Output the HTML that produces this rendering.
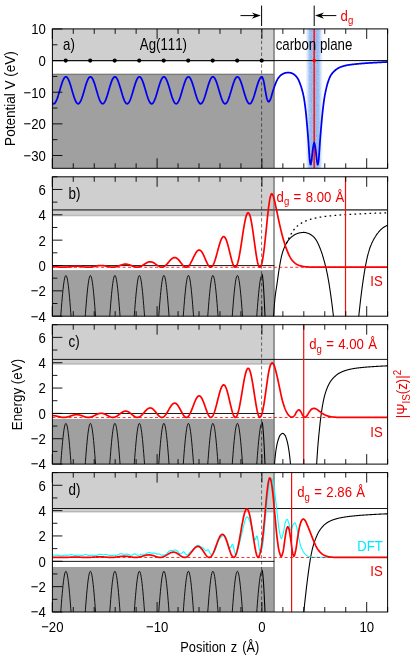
<!DOCTYPE html>
<html><head><meta charset="utf-8"><title>Image state on graphene/Ag(111)</title>
<style>html,body{margin:0;padding:0;background:#fff;}svg{display:block;will-change:transform;}text{font-kerning:none;}body{font-family:"Liberation Sans", sans-serif;}</style></head>
<body>
<svg width="415" height="661" viewBox="0 0 415 661" font-family='"Liberation Sans", sans-serif'>
<defs>
<clipPath id="clipA"><rect x="52.4" y="28.9" width="335.20000000000005" height="139.4"/></clipPath>
<clipPath id="clipB"><rect x="52.4" y="176.8" width="335.20000000000005" height="139.4"/></clipPath>
<clipPath id="clipC"><rect x="52.4" y="324.7" width="335.20000000000005" height="139.4"/></clipPath>
<clipPath id="clipD"><rect x="52.4" y="472.6" width="335.20000000000005" height="139.4"/></clipPath>
<linearGradient id="glow" x1="0" x2="1" y1="0" y2="0"><stop offset="0" stop-color="#4f8fe8" stop-opacity="0"/><stop offset="0.10" stop-color="#4f8fe8" stop-opacity="0.2"/><stop offset="0.22" stop-color="#4f8fe8" stop-opacity="0.58"/><stop offset="0.34" stop-color="#4f8fe8" stop-opacity="0.7"/><stop offset="0.5" stop-color="#4f8fe8" stop-opacity="0.58"/><stop offset="0.66" stop-color="#4f8fe8" stop-opacity="0.7"/><stop offset="0.78" stop-color="#4f8fe8" stop-opacity="0.58"/><stop offset="0.90" stop-color="#4f8fe8" stop-opacity="0.2"/><stop offset="1" stop-color="#4f8fe8" stop-opacity="0"/></linearGradient>
<filter id="noise" x="0" y="0" width="1" height="1"><feTurbulence type="fractalNoise" baseFrequency="0.9" numOctaves="2" seed="3" result="n"/><feColorMatrix in="n" type="matrix" values="0 0 0 0 1  0 0 0 0 1  0 0 0 0 1  0 0 0 1.6 -0.45" result="m"/><feComposite in="m" in2="SourceGraphic" operator="in"/></filter>
</defs>
<rect x="0.00" y="0.00" width="415.00" height="661.00" fill="#fff"/>
<g clip-path="url(#clipA)">
<rect x="52.40" y="28.90" width="221.90" height="33.00" fill="#cfcfcf"/>
<rect x="52.40" y="74.70" width="221.90" height="93.60" fill="#a0a0a0"/>
<line x1="52.40" y1="74.30" x2="274.30" y2="74.30" stroke="#585858" stroke-width="1.1" />
<rect x="305.40" y="28.90" width="17.60" height="139.40" fill="url(#glow)"/>
<rect x="305.4" y="28.9" width="17.6" height="139.4" fill="#fff" filter="url(#noise)" opacity="0.35"/>
<line x1="274.00" y1="28.90" x2="274.00" y2="168.30" stroke="#7c7c7c" stroke-width="1.5" />
<line x1="52.40" y1="60.60" x2="387.60" y2="60.60" stroke="#000" stroke-width="1.0" />
<line x1="261.60" y1="28.90" x2="261.60" y2="168.30" stroke="#000" stroke-width="0.55" stroke-dasharray="3.4,2.5"/>
<circle cx="261.70" cy="60.6" r="2.1" fill="#000"/>
<circle cx="237.20" cy="60.6" r="2.1" fill="#000"/>
<circle cx="212.70" cy="60.6" r="2.1" fill="#000"/>
<circle cx="188.20" cy="60.6" r="2.1" fill="#000"/>
<circle cx="163.70" cy="60.6" r="2.1" fill="#000"/>
<circle cx="139.20" cy="60.6" r="2.1" fill="#000"/>
<circle cx="114.70" cy="60.6" r="2.1" fill="#000"/>
<circle cx="90.20" cy="60.6" r="2.1" fill="#000"/>
<circle cx="65.70" cy="60.6" r="2.1" fill="#000"/>
<line x1="314.20" y1="28.90" x2="314.20" y2="168.30" stroke="#ff1a1a" stroke-width="1.7" />
<circle cx="314.2" cy="60.6" r="1.8" fill="#f00"/>
<polyline points="50.40,99.38 51.25,101.33 52.10,102.75 52.95,103.59 53.80,103.80 54.65,103.37 55.50,102.32 56.35,100.71 57.20,98.60 58.04,96.10 58.89,93.33 59.74,90.41 60.59,87.49 61.44,84.70 62.29,82.18 63.14,80.04 63.99,78.38 64.84,77.29 65.69,76.81 66.54,76.98 67.39,77.77 68.24,79.15 69.09,81.06 69.94,83.41 70.79,86.08 71.63,88.95 72.48,91.89 73.33,94.75 74.18,97.40 75.03,99.72 75.88,101.59 76.73,102.92 77.58,103.66 78.43,103.77 79.28,103.24 80.13,102.10 80.98,100.41 81.83,98.23 82.68,95.68 83.53,92.88 84.38,89.95 85.23,87.04 86.07,84.29 86.92,81.81 87.77,79.74 88.62,78.17 89.47,77.18 90.32,76.80 91.17,77.06 92.02,77.94 92.87,79.41 93.72,81.40 94.57,83.81 95.42,86.52 96.27,89.41 97.12,92.34 97.97,95.18 98.82,97.79 99.67,100.04 100.51,101.83 101.36,103.08 102.21,103.72 103.06,103.73 103.91,103.11 104.76,101.87 105.61,100.10 106.46,97.86 107.31,95.26 108.16,92.43 109.01,89.49 109.86,86.60 110.71,83.88 111.56,81.46 112.41,79.46 113.26,77.98 114.10,77.07 114.95,76.80 115.80,77.16 116.65,78.14 117.50,79.69 118.35,81.75 119.20,84.21 120.05,86.96 120.90,89.87 121.75,92.80 122.60,95.60 123.45,98.16 124.30,100.35 125.15,102.06 126.00,103.22 126.85,103.77 127.70,103.67 128.54,102.95 129.39,101.63 130.24,99.77 131.09,97.47 131.94,94.83 132.79,91.97 133.64,89.03 134.49,86.16 135.34,83.48 136.19,81.12 137.04,79.20 137.89,77.80 138.74,76.99 139.59,76.81 140.44,77.27 141.29,78.34 142.13,79.98 142.98,82.11 143.83,84.62 144.68,87.41 145.53,90.33 146.38,93.24 147.23,96.02 148.08,98.53 148.93,100.65 149.78,102.28 150.63,103.35 151.48,103.79 152.33,103.60 153.18,102.78 154.03,101.37 154.88,99.44 155.73,97.08 156.57,94.39 157.42,91.51 158.27,88.58 159.12,85.72 159.97,83.09 160.82,80.79 161.67,78.94 162.52,77.63 163.37,76.92 164.22,76.84 165.07,77.40 165.92,78.56 166.77,80.28 167.62,82.48 168.47,85.04 169.32,87.86 170.17,90.79 171.01,93.69 171.86,96.44 172.71,98.89 173.56,100.94 174.41,102.49 175.26,103.46 176.11,103.81 176.96,103.52 177.81,102.60 178.66,101.11 179.51,99.10 180.36,96.68 181.21,93.95 182.06,91.06 182.91,88.12 183.76,85.30 184.60,82.70 185.45,80.47 186.30,78.70 187.15,77.48 188.00,76.86 188.85,76.89 189.70,77.54 190.55,78.80 191.40,80.60 192.25,82.86 193.10,85.47 193.95,88.31 194.80,91.24 195.65,94.13 196.50,96.84 197.35,99.24 198.20,101.22 199.04,102.68 199.89,103.55 200.74,103.80 201.59,103.41 202.44,102.40 203.29,100.82 204.14,98.75 204.99,96.27 205.84,93.51 206.69,90.60 207.54,87.67 208.39,84.87 209.24,82.33 210.09,80.16 210.94,78.47 211.79,77.34 212.63,76.83 213.48,76.95 214.33,77.70 215.18,79.04 216.03,80.92 216.88,83.25 217.73,85.90 218.58,88.77 219.43,91.70 220.28,94.57 221.13,97.24 221.98,99.58 222.83,101.48 223.68,102.85 224.53,103.63 225.38,103.78 226.23,103.30 227.07,102.19 227.92,100.53 228.77,98.38 229.62,95.85 230.47,93.06 231.32,90.14 232.17,87.22 233.02,84.45 233.87,81.96 234.72,79.86 235.57,78.26 236.42,77.22 237.27,76.80 238.12,77.02 238.97,77.87 239.82,79.30 240.67,81.26 241.51,83.64 242.36,86.34 243.21,89.22 244.06,92.16 244.91,95.00 245.76,97.63 246.61,99.91 247.46,101.73 248.31,103.02 249.16,103.70 250.01,103.75 250.86,103.16 251.71,101.97 252.56,100.22 253.41,98.01 254.26,95.43 255.10,92.61 255.95,89.68 256.80,86.78 257.65,84.04 258.50,81.61 259.35,79.58 260.20,78.06 261.05,77.11 261.90,76.79 262.16,76.95 262.42,77.44 262.68,78.05 262.94,78.75 263.20,79.53 263.46,80.36 263.72,81.34 263.98,82.57 264.24,84.00 264.50,85.55 264.76,87.17 265.02,88.78 265.28,90.30 265.54,91.69 265.80,93.07 266.06,94.49 266.32,95.89 266.58,97.19 266.84,98.33 267.10,99.22 267.36,99.87 267.62,100.48 267.88,101.02 268.14,101.45 268.39,101.73 268.65,101.80 268.91,101.69 269.17,101.44 269.43,101.10 269.69,100.69 269.95,100.24 270.21,99.78 270.47,99.23 270.73,98.55 270.99,97.76 271.25,96.88 271.51,95.96 271.77,95.01 272.03,94.07 272.29,93.17 272.55,92.34 272.81,91.52 273.07,90.69 273.33,89.86 273.59,89.04 273.85,88.23 274.11,87.44 274.37,86.69 274.63,85.98 274.89,85.31 275.15,84.64 275.41,83.97 275.67,83.31 275.93,82.67 276.19,82.04 276.45,81.44 276.71,80.86 276.97,80.31 277.23,79.80 277.49,79.32 277.75,78.88 278.01,78.49 278.27,78.13 278.53,77.78 278.79,77.44 279.05,77.11 279.31,76.80 279.57,76.50 279.83,76.21 280.09,75.94 280.35,75.68 280.61,75.44 280.87,75.21 281.13,75.00 281.38,74.80 281.64,74.62 281.90,74.46 282.16,74.31 282.42,74.16 282.68,74.02 282.94,73.88 283.20,73.75 283.46,73.62 283.72,73.50 283.98,73.39 284.24,73.28 284.50,73.18 284.76,73.09 285.02,73.01 285.28,72.94 285.54,72.88 285.80,72.83 286.06,72.79 286.32,72.76 286.58,72.72 286.84,72.69 287.10,72.67 287.36,72.64 287.62,72.62 287.88,72.61 288.14,72.60 288.40,72.60 288.66,72.61 288.92,72.62 289.18,72.65 289.44,72.68 289.70,72.71 289.96,72.75 290.22,72.79 290.48,72.84 290.74,72.89 291.00,72.94 291.26,73.01 291.52,73.09 291.78,73.19 292.04,73.30 292.30,73.41 292.56,73.54 292.82,73.68 293.08,73.83 293.34,73.98 293.60,74.14 293.86,74.31 294.12,74.48 294.37,74.66 294.63,74.86 294.89,75.08 295.15,75.32 295.41,75.57 295.67,75.83 295.93,76.12 296.19,76.42 296.45,76.73 296.71,77.06 296.97,77.41 297.23,77.77 297.49,78.14 297.75,78.54 298.01,78.97 298.27,79.45 298.53,79.97 298.79,80.53 299.05,81.13 299.31,81.75 299.57,82.40 299.83,83.08 300.09,83.79 300.35,84.51 300.61,85.26 300.87,86.02 301.13,86.79 301.39,87.58 301.65,88.41 301.91,89.28 302.17,90.19 302.43,91.15 302.69,92.16 302.95,93.23 303.21,94.36 303.47,95.57 303.73,96.84 303.99,98.25 304.25,99.82 304.51,101.54 304.77,103.38 305.03,105.34 305.29,107.38 305.55,109.53 305.81,111.89 306.07,114.43 306.33,117.11 306.59,119.88 306.85,122.70 307.11,125.56 307.36,128.49 307.62,131.52 307.88,134.67 308.14,137.96 308.40,141.43 308.66,145.33 308.92,149.34 309.18,153.08 309.44,156.66 309.70,159.98 309.96,162.09 310.22,163.56 310.48,164.48 310.74,164.45 311.00,163.56 311.26,162.24 311.52,160.77 311.78,158.68 312.04,156.17 312.30,153.59 312.56,151.30 312.82,149.40 313.08,147.63 313.34,146.00 313.60,144.50 314.20,142.60 314.80,144.50 315.10,146.22 315.39,148.11 315.69,150.18 315.98,152.52 316.28,155.38 316.58,158.28 316.87,160.72 317.17,162.40 317.46,163.85 317.76,164.59 318.06,164.09 318.35,162.60 318.65,160.49 318.94,156.84 319.24,152.77 319.54,148.43 319.83,143.86 320.13,139.63 320.42,135.82 320.72,132.18 321.02,128.71 321.31,125.37 321.61,122.13 321.90,118.95 322.20,115.85 322.50,112.89 322.79,110.12 323.09,107.57 323.38,105.16 323.68,102.88 323.98,100.73 324.27,98.73 324.57,96.89 324.86,95.20 325.16,93.61 325.46,92.11 325.75,90.70 326.05,89.35 326.34,88.07 326.64,86.84 326.94,85.66 327.23,84.56 327.53,83.55 327.82,82.62 328.12,81.74 328.42,80.87 328.71,80.03 329.01,79.23 329.30,78.46 329.60,77.74 329.90,77.07 330.19,76.45 330.49,75.89 330.78,75.40 331.08,74.93 331.38,74.48 331.67,74.06 331.97,73.65 332.26,73.27 332.56,72.90 332.86,72.56 333.15,72.23 333.45,71.91 333.74,71.61 334.04,71.32 334.33,71.05 334.63,70.78 334.93,70.53 335.22,70.28 335.52,70.03 335.81,69.80 336.11,69.57 336.41,69.35 336.70,69.13 337.00,68.93 337.29,68.73 337.59,68.54 337.89,68.36 338.18,68.18 338.48,68.02 338.77,67.86 339.07,67.71 339.37,67.57 339.66,67.43 339.96,67.30 340.25,67.18 340.55,67.06 340.85,66.94 341.14,66.83 341.44,66.72 341.73,66.61 342.03,66.51 342.33,66.42 342.62,66.32 342.92,66.23 343.21,66.14 343.51,66.06 343.81,65.98 344.10,65.90 344.40,65.82 344.69,65.75 344.99,65.68 345.29,65.61 345.58,65.54 345.88,65.47 346.17,65.41 346.47,65.34 346.77,65.28 347.06,65.22 347.36,65.17 347.65,65.11 347.95,65.06 348.25,65.01 348.54,64.96 348.84,64.91 349.13,64.86 349.43,64.82 349.73,64.78 350.02,64.74 350.32,64.70 350.61,64.66 350.91,64.62 351.21,64.59 351.50,64.55 351.80,64.52 352.09,64.48 352.39,64.45 352.69,64.41 352.98,64.38 353.28,64.35 353.57,64.31 353.87,64.28 354.17,64.25 354.46,64.21 354.76,64.18 355.05,64.15 355.35,64.12 355.65,64.08 355.94,64.05 356.24,64.02 356.53,63.99 356.83,63.96 357.13,63.93 357.42,63.90 357.72,63.87 358.01,63.84 358.31,63.81 358.61,63.78 358.90,63.75 359.20,63.73 359.49,63.70 359.79,63.67 360.09,63.65 360.38,63.62 360.68,63.60 360.97,63.57 361.27,63.55 361.57,63.52 361.86,63.50 362.16,63.47 362.45,63.45 362.75,63.43 363.05,63.40 363.34,63.38 363.64,63.36 363.93,63.33 364.23,63.31 364.53,63.29 364.82,63.27 365.12,63.25 365.41,63.22 365.71,63.20 366.01,63.18 366.30,63.16 366.60,63.14 366.89,63.12 367.19,63.10 367.49,63.08 367.78,63.06 368.08,63.04 368.37,63.02 368.67,63.00 368.97,62.98 369.26,62.97 369.56,62.95 369.85,62.93 370.15,62.91 370.44,62.89 370.74,62.87 371.04,62.86 371.33,62.84 371.63,62.82 371.92,62.80 372.22,62.79 372.52,62.77 372.81,62.75 373.11,62.74 373.40,62.72 373.70,62.70 374.00,62.69 374.29,62.67 374.59,62.65 374.88,62.64 375.18,62.62 375.48,62.60 375.77,62.59 376.07,62.57 376.36,62.55 376.66,62.54 376.96,62.52 377.25,62.50 377.55,62.49 377.84,62.47 378.14,62.45 378.44,62.44 378.73,62.42 379.03,62.40 379.32,62.39 379.62,62.37 379.92,62.35 380.21,62.34 380.51,62.32 380.80,62.31 381.10,62.29 381.40,62.27 381.69,62.26 381.99,62.24 382.28,62.22 382.58,62.21 382.88,62.19 383.17,62.18 383.47,62.16 383.76,62.15 384.06,62.13 384.36,62.11 384.65,62.10 384.95,62.08 385.24,62.07 385.54,62.05 385.84,62.04 386.13,62.02 386.43,62.01 386.72,61.99 387.02,61.98 387.32,61.96 387.61,61.95 387.91,61.93 388.20,61.91 388.50,61.90" fill="none" stroke="#0000f0" stroke-width="1.75" stroke-linejoin="round" stroke-linecap="butt" />
</g>
<text transform="translate(63.10,50.30) scale(0.835,1)" font-size="15.9" fill="#000" text-anchor="start" >a)</text>
<text transform="translate(139.80,50.30) scale(0.835,1)" font-size="15.9" fill="#000" text-anchor="start" >Ag(111)</text>
<text transform="translate(275.70,49.70) scale(0.835,1)" font-size="15.9" fill="#000" text-anchor="start" >carbon plane</text>
<line x1="52.40" y1="28.97" x2="62.40" y2="28.97" stroke="#000" stroke-width="0.9" />
<text transform="translate(45.80,34.37) scale(0.872,1)" font-size="15.1" fill="#000" text-anchor="end" >10</text>
<line x1="52.40" y1="44.79" x2="57.40" y2="44.79" stroke="#000" stroke-width="0.9" />
<line x1="52.40" y1="60.60" x2="62.40" y2="60.60" stroke="#000" stroke-width="0.9" />
<text transform="translate(45.80,66.00) scale(0.872,1)" font-size="15.1" fill="#000" text-anchor="end" >0</text>
<line x1="52.40" y1="76.42" x2="57.40" y2="76.42" stroke="#000" stroke-width="0.9" />
<line x1="52.40" y1="92.23" x2="62.40" y2="92.23" stroke="#000" stroke-width="0.9" />
<text transform="translate(45.80,97.63) scale(0.872,1)" font-size="15.1" fill="#000" text-anchor="end" >−10</text>
<line x1="52.40" y1="108.05" x2="57.40" y2="108.05" stroke="#000" stroke-width="0.9" />
<line x1="52.40" y1="123.86" x2="62.40" y2="123.86" stroke="#000" stroke-width="0.9" />
<text transform="translate(45.80,129.26) scale(0.872,1)" font-size="15.1" fill="#000" text-anchor="end" >−20</text>
<line x1="52.40" y1="139.67" x2="57.40" y2="139.67" stroke="#000" stroke-width="0.9" />
<line x1="52.40" y1="155.49" x2="62.40" y2="155.49" stroke="#000" stroke-width="0.9" />
<text transform="translate(45.80,160.89) scale(0.872,1)" font-size="15.1" fill="#000" text-anchor="end" >−30</text>
<g clip-path="url(#clipB)">
<rect x="52.40" y="176.80" width="221.90" height="39.60" fill="#cfcfcf"/>
<line x1="52.40" y1="215.30" x2="274.30" y2="215.30" stroke="#b6b6b6" stroke-width="1.0" />
<rect x="52.40" y="270.09" width="221.90" height="46.11" fill="#a0a0a0"/>
<line x1="274.00" y1="176.80" x2="274.00" y2="316.20" stroke="#7c7c7c" stroke-width="1.5" />
<line x1="52.40" y1="209.80" x2="387.60" y2="209.80" stroke="#5c5c5c" stroke-width="1.8" />
<line x1="52.40" y1="265.59" x2="274.30" y2="265.59" stroke="#000" stroke-width="0.9" />
<line x1="261.60" y1="176.80" x2="261.60" y2="316.20" stroke="#000" stroke-width="0.55" stroke-dasharray="3.4,2.5"/>
<polyline points="50.40,365.97 50.81,369.95 51.22,373.49 51.62,376.55 52.03,379.10 52.44,381.11 52.85,382.55 53.25,383.42 53.66,383.70 54.07,383.39 54.48,382.49 54.88,381.02 55.29,378.99 55.70,376.41 56.11,373.33 56.51,369.76 56.92,365.76 57.33,361.37 57.74,356.63 58.14,351.59 58.55,346.31 58.96,340.86 59.37,335.27 59.77,329.63 60.18,323.99 60.59,318.40 61.00,312.94 61.40,307.66 61.81,302.63 62.22,297.88 62.63,293.48 63.03,289.48 63.44,285.91 63.85,282.82 64.26,280.24 64.66,278.20 65.07,276.72 65.48,275.82 65.89,275.50 66.29,275.77 66.70,276.64 67.11,278.08 67.52,280.08 67.92,282.62 68.33,285.67 68.74,289.21 69.15,293.18 69.55,297.56 69.96,302.28 70.37,307.30 70.78,312.56 71.18,318.01 71.59,323.59 72.00,329.23 72.41,334.87 72.81,340.46 73.22,345.93 73.63,351.22 74.04,356.28 74.44,361.04 74.85,365.46 75.26,369.49 75.67,373.09 76.07,376.21 76.48,378.82 76.89,380.89 77.30,382.41 77.70,383.35 78.11,383.70 78.52,383.46 78.93,382.63 79.33,381.23 79.74,379.26 80.15,376.75 80.56,373.72 80.96,370.22 81.37,366.27 81.78,361.92 82.19,357.22 82.59,352.21 83.00,346.96 83.41,341.52 83.82,335.95 84.22,330.31 84.63,324.66 85.04,319.07 85.45,313.59 85.85,308.29 86.26,303.22 86.67,298.43 87.08,293.99 87.48,289.94 87.89,286.32 88.30,283.17 88.71,280.52 89.11,278.42 89.52,276.87 89.93,275.89 90.34,275.51 90.74,275.71 91.15,276.50 91.56,277.87 91.97,279.81 92.37,282.29 92.78,285.28 93.19,288.76 93.60,292.68 94.00,297.01 94.41,301.69 94.82,306.68 95.23,311.92 95.63,317.35 96.04,322.91 96.45,328.55 96.86,334.20 97.26,339.79 97.67,345.28 98.08,350.60 98.49,355.68 98.89,360.49 99.30,364.95 99.71,369.03 100.12,372.68 100.52,375.86 100.93,378.53 101.34,380.67 101.75,382.26 102.15,383.26 102.56,383.69 102.97,383.52 103.38,382.76 103.78,381.43 104.19,379.53 104.60,377.08 105.01,374.12 105.41,370.66 105.82,366.77 106.23,362.46 106.64,357.80 107.04,352.83 107.45,347.61 107.86,342.19 108.27,336.63 108.67,330.99 109.08,325.34 109.49,319.74 109.90,314.25 110.30,308.92 110.71,303.82 111.12,298.99 111.53,294.51 111.93,290.40 112.34,286.73 112.75,283.52 113.16,280.81 113.56,278.64 113.97,277.02 114.38,275.98 114.79,275.52 115.19,275.65 115.60,276.37 116.01,277.68 116.42,279.54 116.82,281.96 117.23,284.89 117.64,288.31 118.05,292.19 118.45,296.47 118.86,301.11 119.27,306.06 119.68,311.27 120.08,316.68 120.49,322.23 120.90,327.87 121.31,333.52 121.72,339.12 122.12,344.63 122.53,349.97 122.94,355.08 123.35,359.92 123.75,364.43 124.16,368.56 124.57,372.26 124.98,375.50 125.38,378.24 125.79,380.44 126.20,382.10 126.61,383.17 127.01,383.67 127.42,383.57 127.83,382.89 128.24,381.62 128.64,379.78 129.05,377.40 129.46,374.50 129.87,371.11 130.27,367.26 130.68,363.00 131.09,358.38 131.50,353.44 131.90,348.25 132.31,342.85 132.72,337.30 133.13,331.67 133.53,326.02 133.94,320.41 134.35,314.90 134.76,309.55 135.16,304.42 135.57,299.56 135.98,295.03 136.39,290.88 136.79,287.15 137.20,283.88 137.61,281.11 138.02,278.87 138.42,277.19 138.83,276.08 139.24,275.55 139.65,275.61 140.05,276.26 140.46,277.49 140.87,279.29 141.28,281.64 141.68,284.51 142.09,287.88 142.50,291.70 142.91,295.93 143.31,300.53 143.72,305.45 144.13,310.63 144.54,316.02 144.94,321.56 145.35,327.18 145.76,332.84 146.17,338.45 146.57,343.97 146.98,349.33 147.39,354.48 147.80,359.36 148.20,363.91 148.61,368.09 149.02,371.84 149.43,375.14 149.83,377.94 150.24,380.21 150.65,381.93 151.06,383.07 151.46,383.64 151.87,383.61 152.28,383.00 152.69,381.80 153.09,380.04 153.50,377.72 153.91,374.88 154.32,371.54 154.72,367.75 155.13,363.53 155.54,358.95 155.95,354.05 156.35,348.89 156.76,343.51 157.17,337.98 157.58,332.36 157.98,326.70 158.39,321.08 158.80,315.56 159.21,310.18 159.61,305.02 160.02,300.13 160.43,295.56 160.84,291.36 161.24,287.57 161.65,284.25 162.06,281.42 162.47,279.11 162.87,277.36 163.28,276.18 163.69,275.58 164.10,275.57 164.50,276.15 164.91,277.31 165.32,279.04 165.73,281.33 166.13,284.14 166.54,287.45 166.95,291.21 167.36,295.40 167.76,299.96 168.17,304.84 168.58,310.00 168.99,315.36 169.39,320.89 169.80,326.50 170.21,332.16 170.62,337.78 171.02,343.31 171.43,348.70 171.84,353.87 172.25,358.79 172.65,363.38 173.06,367.60 173.47,371.41 173.88,374.77 174.28,377.63 174.69,379.96 175.10,381.75 175.51,382.97 175.91,383.60 176.32,383.65 176.73,383.10 177.14,381.98 177.54,380.28 177.95,378.03 178.36,375.25 178.77,371.97 179.17,368.23 179.58,364.06 179.99,359.52 180.40,354.66 180.80,349.52 181.21,344.16 181.62,338.65 182.03,333.04 182.43,327.39 182.84,321.76 183.25,316.22 183.66,310.82 184.06,305.63 184.47,300.70 184.88,296.09 185.29,291.84 185.69,288.01 186.10,284.62 186.51,281.73 186.92,279.36 187.32,277.54 187.73,276.29 188.14,275.62 188.55,275.54 188.95,276.05 189.36,277.14 189.77,278.80 190.18,281.02 190.58,283.77 190.99,287.02 191.40,290.74 191.81,294.88 192.22,299.39 192.62,304.24 193.03,309.36 193.44,314.71 193.85,320.21 194.25,325.82 194.66,331.47 195.07,337.10 195.48,342.65 195.88,348.06 196.29,353.26 196.70,358.21 197.11,362.84 197.51,367.11 197.92,370.98 198.33,374.39 198.74,377.31 199.14,379.71 199.55,381.56 199.96,382.85 200.37,383.56 200.77,383.67 201.18,383.20 201.59,382.14 202.00,380.51 202.40,378.33 202.81,375.61 203.22,372.39 203.63,368.70 204.03,364.59 204.44,360.09 204.85,355.26 205.26,350.15 205.66,344.82 206.07,339.32 206.48,333.72 206.89,328.07 207.29,322.43 207.70,316.88 208.11,311.46 208.52,306.24 208.92,301.28 209.33,296.63 209.74,292.33 210.15,288.44 210.55,285.01 210.96,282.05 211.37,279.62 211.78,277.73 212.18,276.41 212.59,275.67 213.00,275.52 213.41,275.95 213.81,276.98 214.22,278.57 214.63,280.73 215.04,283.41 215.44,286.61 215.85,290.27 216.26,294.36 216.67,298.83 217.07,303.64 217.48,308.73 217.89,314.05 218.30,319.54 218.70,325.14 219.11,330.79 219.52,336.43 219.93,341.99 220.33,347.42 220.74,352.65 221.15,357.63 221.56,362.30 221.96,366.62 222.37,370.53 222.78,374.00 223.19,376.98 223.59,379.45 224.00,381.37 224.41,382.73 224.82,383.50 225.22,383.69 225.63,383.29 226.04,382.30 226.45,380.74 226.85,378.62 227.26,375.96 227.67,372.80 228.08,369.17 228.48,365.10 228.89,360.65 229.30,355.86 229.71,350.78 230.11,345.47 230.52,339.99 230.93,334.40 231.34,328.75 231.74,323.11 232.15,317.54 232.56,312.11 232.97,306.86 233.37,301.86 233.78,297.17 234.19,292.83 234.60,288.89 235.00,285.40 235.41,282.38 235.82,279.89 236.23,277.93 236.63,276.54 237.04,275.73 237.45,275.50 237.86,275.87 238.26,276.82 238.67,278.35 239.08,280.44 239.49,283.06 239.89,286.20 240.30,289.80 240.71,293.84 241.12,298.27 241.52,303.04 241.93,308.11 242.34,313.40 242.75,318.87 243.15,324.47 243.56,330.11 243.97,335.75 244.38,341.33 244.78,346.77 245.19,352.03 245.60,357.04 246.01,361.76 246.41,366.12 246.82,370.09 247.23,373.61 247.64,376.65 248.04,379.18 248.45,381.17 248.86,382.59 249.27,383.44 249.67,383.70 250.08,383.37 250.49,382.45 250.90,380.96 251.30,378.90 251.71,376.31 252.12,373.21 252.53,369.63 252.93,365.61 253.34,361.21 253.75,356.45 254.16,351.41 254.56,346.12 254.97,340.66 255.38,335.07 255.79,329.43 256.19,323.79 256.60,318.21 257.01,312.75 257.42,307.48 257.82,302.45 258.23,297.72 258.64,293.33 259.05,289.34 259.45,285.79 259.86,282.72 260.27,280.16 260.68,278.14 261.08,276.68 261.49,275.79 261.90,275.50" fill="none" stroke="#000" stroke-width="0.9" stroke-linejoin="round" stroke-linecap="butt" />
<polyline points="261.90,274.23 262.04,274.34 262.18,274.65 262.33,275.18 262.47,275.91 262.61,276.85 262.75,277.98 262.90,279.31 263.04,280.84 263.18,282.54 263.32,284.42 263.47,286.46 263.61,288.67 263.75,291.02 263.89,293.51 264.04,296.13 264.18,298.86 264.32,301.70 264.46,304.63 264.61,307.64 264.75,310.72 264.89,313.85 265.03,317.02 265.17,320.21 265.32,323.42 265.46,326.62 265.60,329.81 265.74,332.97 265.89,336.08 266.03,339.14 266.17,342.13 266.31,345.03 266.46,347.84 266.60,350.54 266.74,353.12 266.88,355.57 267.03,357.88 267.17,360.04 267.31,362.04 267.45,363.86 267.59,365.51 267.74,366.98 267.88,368.25 268.02,369.33 268.16,370.20 268.31,370.87 268.45,371.34 268.59,371.59 268.73,371.63 268.88,371.46 269.02,371.08 269.16,370.50 269.30,369.70 269.45,368.70 269.59,367.51 269.73,366.12 269.87,364.54 270.02,362.79 270.16,360.86 270.30,358.77" fill="none" stroke="#000" stroke-width="1.1" stroke-linejoin="round" stroke-linecap="butt" />
<polyline points="272.60,330.00 272.81,326.66 273.02,323.42 273.23,320.28 273.43,317.28 273.64,314.41 273.85,311.59 274.06,308.80 274.27,306.10 274.48,303.53 274.69,301.13 274.90,298.98 275.10,297.08 275.31,295.37 275.52,293.80 275.73,292.33 275.94,290.94 276.15,289.60 276.36,288.28 276.57,286.94 276.77,285.56 276.98,284.12 277.19,282.63 277.40,281.13 277.61,279.60 277.82,278.08 278.03,276.56 278.23,275.05 278.44,273.58 278.65,272.14 278.86,270.74 279.07,269.40 279.28,268.13 279.49,266.90 279.70,265.69 279.90,264.48 280.11,263.30 280.32,262.14 280.53,261.01 280.74,259.91 280.95,258.86 281.16,257.84 281.37,256.88 281.57,255.97 281.78,255.12 281.99,254.33 282.20,253.59 282.41,252.88 282.62,252.20 282.83,251.54 283.03,250.91 283.24,250.31 283.45,249.72 283.66,249.16 283.87,248.62 284.08,248.09 284.29,247.59 284.50,247.11 284.70,246.64 284.91,246.18 285.12,245.75 285.33,245.32 285.54,244.90 285.75,244.49 285.96,244.09 286.17,243.70 286.37,243.32 286.58,242.95 286.79,242.59 287.00,242.24 287.21,241.90 287.42,241.58 287.63,241.26 287.83,240.95 288.04,240.66 288.25,240.37 288.46,240.10 288.67,239.84 288.88,239.59 289.09,239.34 289.30,239.11 289.50,238.88 289.71,238.65 289.92,238.44 290.13,238.23 290.34,238.03 290.55,237.83 290.76,237.64 290.97,237.46 291.17,237.28 291.38,237.10 291.59,236.93 291.80,236.76 292.01,236.59 292.22,236.43 292.43,236.27 292.63,236.11 292.84,235.95 293.05,235.80 293.26,235.65 293.47,235.50 293.68,235.36 293.89,235.22 294.10,235.08 294.30,234.95 294.51,234.82 294.72,234.70 294.93,234.59 295.14,234.48 295.35,234.37 295.56,234.27 295.77,234.18 295.97,234.08 296.18,233.99 296.39,233.90 296.60,233.81 296.81,233.73 297.02,233.64 297.23,233.56 297.43,233.48 297.64,233.40 297.85,233.33 298.06,233.26 298.27,233.20 298.48,233.14 298.69,233.08 298.90,233.03 299.10,232.98 299.31,232.93 299.52,232.90 299.73,232.86 299.94,232.82 300.15,232.79 300.36,232.75 300.57,232.72 300.77,232.69 300.98,232.66 301.19,232.62 301.40,232.59 301.61,232.57 301.82,232.54 302.03,232.52 302.23,232.49 302.44,232.47 302.65,232.45 302.86,232.44 303.07,232.42 303.28,232.41 303.49,232.41 303.70,232.40 303.90,232.40 304.11,232.40 304.32,232.41 304.53,232.43 304.74,232.45 304.95,232.48 305.16,232.52 305.37,232.56 305.57,232.60 305.78,232.65 305.99,232.70 306.20,232.75 306.41,232.81 306.62,232.87 306.83,232.93 307.03,233.00 307.24,233.06 307.45,233.13 307.66,233.19 307.87,233.26 308.08,233.33 308.29,233.40 308.50,233.47 308.70,233.56 308.91,233.64 309.12,233.74 309.33,233.84 309.54,233.94 309.75,234.05 309.96,234.17 310.17,234.28 310.37,234.41 310.58,234.54 310.79,234.67 311.00,234.80 311.21,234.94 311.42,235.08 311.63,235.23 311.83,235.38 312.04,235.53 312.25,235.69 312.46,235.85 312.67,236.01 312.88,236.19 313.09,236.37 313.30,236.56 313.50,236.77 313.71,236.98 313.92,237.19 314.13,237.42 314.34,237.66 314.55,237.90 314.76,238.15 314.97,238.41 315.17,238.67 315.38,238.95 315.59,239.23 315.80,239.52 316.01,239.81 316.22,240.12 316.43,240.45 316.63,240.80 316.84,241.17 317.05,241.55 317.26,241.95 317.47,242.37 317.68,242.79 317.89,243.23 318.10,243.67 318.30,244.12 318.51,244.58 318.72,245.05 318.93,245.52 319.14,245.99 319.35,246.47 319.56,246.96 319.77,247.47 319.97,247.99 320.18,248.52 320.39,249.06 320.60,249.61 320.81,250.18 321.02,250.75 321.23,251.34 321.43,251.93 321.64,252.54 321.85,253.16 322.06,253.79 322.27,254.44 322.48,255.11 322.69,255.79 322.90,256.49 323.10,257.20 323.31,257.92 323.52,258.66 323.73,259.40 323.94,260.15 324.15,260.91 324.36,261.67 324.57,262.44 324.77,263.21 324.98,263.99 325.19,264.79 325.40,265.59 325.61,266.41 325.82,267.25 326.03,268.10 326.23,268.98 326.44,269.89 326.65,270.82 326.86,271.78 327.07,272.78 327.28,273.82 327.49,274.89 327.70,276.00 327.90,277.13 328.11,278.30 328.32,279.48 328.53,280.69 328.74,281.92 328.95,283.17 329.16,284.44 329.37,285.72 329.57,287.04 329.78,288.39 329.99,289.77 330.20,291.18 330.41,292.61 330.62,294.07 330.83,295.56 331.03,297.06 331.24,298.58 331.45,300.13 331.66,301.70 331.87,303.29 332.08,304.92 332.29,306.57 332.50,308.25 332.70,309.96 332.91,311.70 333.12,313.47 333.33,315.26 333.54,317.10 333.75,318.98 333.96,320.89 334.17,322.85 334.37,324.84 334.58,326.86 334.79,328.91 335.00,331.00" fill="none" stroke="#000" stroke-width="1.1" stroke-linejoin="round" stroke-linecap="butt" />
<polyline points="357.20,331.00 357.30,329.99 357.41,328.99 357.51,327.99 357.62,326.99 357.72,325.99 357.83,325.00 357.93,324.01 358.04,323.02 358.14,322.04 358.25,321.06 358.35,320.08 358.46,319.10 358.56,318.13 358.67,317.16 358.77,316.19 358.87,315.23 358.98,314.27 359.08,313.30 359.19,312.34 359.29,311.37 359.40,310.41 359.50,309.45 359.61,308.49 359.71,307.53 359.82,306.57 359.92,305.63 360.03,304.68 360.13,303.75 360.24,302.82 360.34,301.90 360.45,300.99 360.55,300.10 360.65,299.21 360.76,298.34 360.86,297.48 360.97,296.62 361.07,295.77 361.18,294.93 361.28,294.09 361.39,293.25 361.49,292.43 361.60,291.61 361.70,290.79 361.81,289.99 361.91,289.19 362.02,288.39 362.12,287.61 362.22,286.83 362.33,286.06 362.43,285.29 362.54,284.54 362.64,283.79 362.75,283.05 362.85,282.32 362.96,281.59 363.06,280.88 363.17,280.16 363.27,279.46 363.38,278.75 363.48,278.06 363.59,277.36 363.69,276.68 363.79,275.99 363.90,275.32 364.00,274.65 364.11,273.99 364.21,273.33 364.32,272.68 364.42,272.04 364.53,271.41 364.63,270.78 364.74,270.16 364.84,269.56 364.95,268.96 365.05,268.37 365.16,267.78 365.26,267.21 365.37,266.65 365.47,266.09 365.57,265.54 365.68,264.98 365.78,264.44 365.89,263.89 365.99,263.36 366.10,262.82 366.20,262.29 366.31,261.77 366.41,261.25 366.52,260.74 366.62,260.24 366.73,259.74 366.83,259.25 366.94,258.76 367.04,258.29 367.14,257.82 367.25,257.36 367.35,256.90 367.46,256.46 367.56,256.02 367.67,255.59 367.77,255.17 367.88,254.77 367.98,254.37 368.09,253.98 368.19,253.59 368.30,253.21 368.40,252.83 368.51,252.46 368.61,252.09 368.72,251.73 368.82,251.37 368.92,251.01 369.03,250.67 369.13,250.32 369.24,249.98 369.34,249.65 369.45,249.32 369.55,248.99 369.66,248.67 369.76,248.36 369.87,248.05 369.97,247.74 370.08,247.44 370.18,247.15 370.29,246.85 370.39,246.57 370.49,246.29 370.60,246.01 370.70,245.74 370.81,245.47 370.91,245.21 371.02,244.96 371.12,244.70 371.23,244.46 371.33,244.21 371.44,243.97 371.54,243.73 371.65,243.49 371.75,243.26 371.86,243.03 371.96,242.80 372.06,242.58 372.17,242.36 372.27,242.14 372.38,241.93 372.48,241.71 372.59,241.50 372.69,241.30 372.80,241.09 372.90,240.89 373.01,240.69 373.11,240.49 373.22,240.29 373.32,240.09 373.43,239.90 373.53,239.71 373.64,239.52 373.74,239.33 373.84,239.14 373.95,238.96 374.05,238.78 374.16,238.59 374.26,238.41 374.37,238.23 374.47,238.05 374.58,237.88 374.68,237.70 374.79,237.52 374.89,237.35 375.00,237.17 375.10,237.00 375.21,236.83 375.31,236.66 375.41,236.49 375.52,236.33 375.62,236.16 375.73,236.00 375.83,235.83 375.94,235.67 376.04,235.51 376.15,235.36 376.25,235.20 376.36,235.04 376.46,234.89 376.57,234.74 376.67,234.59 376.78,234.44 376.88,234.29 376.98,234.14 377.09,234.00 377.19,233.85 377.30,233.71 377.40,233.57 377.51,233.43 377.61,233.29 377.72,233.16 377.82,233.02 377.93,232.89 378.03,232.76 378.14,232.63 378.24,232.50 378.35,232.37 378.45,232.24 378.56,232.12 378.66,231.99 378.76,231.86 378.87,231.74 378.97,231.62 379.08,231.49 379.18,231.37 379.29,231.25 379.39,231.13 379.50,231.01 379.60,230.90 379.71,230.78 379.81,230.67 379.92,230.55 380.02,230.44 380.13,230.33 380.23,230.22 380.33,230.11 380.44,230.00 380.54,229.90 380.65,229.79 380.75,229.69 380.86,229.59 380.96,229.49 381.07,229.39 381.17,229.29 381.28,229.20 381.38,229.10 381.49,229.01 381.59,228.92 381.70,228.83 381.80,228.74 381.91,228.65 382.01,228.57 382.11,228.48 382.22,228.39 382.32,228.31 382.43,228.22 382.53,228.14 382.64,228.06 382.74,227.98 382.85,227.90 382.95,227.82 383.06,227.74 383.16,227.67 383.27,227.59 383.37,227.52 383.48,227.44 383.58,227.37 383.68,227.30 383.79,227.23 383.89,227.17 384.00,227.10 384.10,227.03 384.21,226.97 384.31,226.91 384.42,226.85 384.52,226.79 384.63,226.73 384.73,226.67 384.84,226.61 384.94,226.55 385.05,226.50 385.15,226.44 385.25,226.38 385.36,226.33 385.46,226.27 385.57,226.22 385.67,226.17 385.78,226.11 385.88,226.06 385.99,226.01 386.09,225.96 386.20,225.91 386.30,225.85 386.41,225.81 386.51,225.76 386.62,225.71 386.72,225.66 386.83,225.62 386.93,225.57 387.03,225.53 387.14,225.48 387.24,225.44 387.35,225.40 387.45,225.36 387.56,225.32 387.66,225.28 387.77,225.24 387.87,225.20 387.98,225.16 388.08,225.13 388.19,225.10 388.29,225.06 388.40,225.03 388.50,225.00" fill="none" stroke="#000" stroke-width="1.1" stroke-linejoin="round" stroke-linecap="butt" />
<polyline points="286.50,243.50 287.01,242.30 287.52,241.13 288.03,240.01 288.54,238.93 289.05,237.89 289.56,236.87 290.07,235.88 290.58,234.93 291.09,234.01 291.60,233.14 292.11,232.33 292.62,231.55 293.13,230.80 293.64,230.08 294.15,229.39 294.66,228.75 295.17,228.16 295.68,227.61 296.19,227.10 296.70,226.61 297.21,226.15 297.72,225.71 298.23,225.29 298.74,224.89 299.25,224.52 299.76,224.16 300.27,223.82 300.78,223.50 301.29,223.18 301.80,222.88 302.31,222.59 302.82,222.31 303.33,222.04 303.84,221.79 304.35,221.55 304.86,221.31 305.37,221.09 305.88,220.89 306.39,220.68 306.90,220.49 307.41,220.30 307.92,220.11 308.43,219.94 308.94,219.76 309.45,219.60 309.96,219.44 310.47,219.28 310.98,219.13 311.49,218.99 312.00,218.85 312.51,218.72 313.02,218.59 313.53,218.47 314.04,218.35 314.55,218.24 315.06,218.13 315.57,218.02 316.08,217.91 316.59,217.81 317.10,217.71 317.61,217.61 318.12,217.51 318.63,217.42 319.14,217.33 319.65,217.24 320.16,217.16 320.67,217.08 321.18,217.00 321.69,216.92 322.20,216.84 322.71,216.77 323.22,216.70 323.73,216.63 324.24,216.56 324.75,216.49 325.26,216.43 325.77,216.36 326.28,216.30 326.79,216.24 327.30,216.18 327.81,216.12 328.32,216.07 328.83,216.01 329.34,215.95 329.85,215.90 330.36,215.85 330.87,215.80 331.38,215.75 331.89,215.70 332.40,215.65 332.91,215.60 333.42,215.55 333.93,215.51 334.44,215.46 334.95,215.42 335.46,215.37 335.97,215.33 336.48,215.29 336.99,215.24 337.51,215.20 338.02,215.16 338.53,215.12 339.04,215.08 339.55,215.05 340.06,215.01 340.57,214.97 341.08,214.93 341.59,214.90 342.10,214.86 342.61,214.83 343.12,214.79 343.63,214.76 344.14,214.73 344.65,214.69 345.16,214.66 345.67,214.63 346.18,214.60 346.69,214.56 347.20,214.53 347.71,214.50 348.22,214.47 348.73,214.44 349.24,214.41 349.75,214.38 350.26,214.35 350.77,214.32 351.28,214.29 351.79,214.26 352.30,214.23 352.81,214.20 353.32,214.17 353.83,214.14 354.34,214.11 354.85,214.08 355.36,214.05 355.87,214.03 356.38,214.00 356.89,213.97 357.40,213.95 357.91,213.92 358.42,213.89 358.93,213.87 359.44,213.84 359.95,213.82 360.46,213.80 360.97,213.77 361.48,213.75 361.99,213.73 362.50,213.70 363.01,213.68 363.52,213.66 364.03,213.64 364.54,213.62 365.05,213.60 365.56,213.58 366.07,213.56 366.58,213.54 367.09,213.52 367.60,213.50 368.11,213.48 368.62,213.46 369.13,213.44 369.64,213.42 370.15,213.41 370.66,213.39 371.17,213.37 371.68,213.35 372.19,213.33 372.70,213.32 373.21,213.30 373.72,213.28 374.23,213.26 374.74,213.25 375.25,213.23 375.76,213.21 376.27,213.20 376.78,213.18 377.29,213.17 377.80,213.15 378.31,213.13 378.82,213.12 379.33,213.10 379.84,213.09 380.35,213.08 380.86,213.06 381.37,213.05 381.88,213.04 382.39,213.02 382.90,213.01 383.41,213.00 383.92,212.99 384.43,212.97 384.94,212.96 385.45,212.95 385.96,212.94 386.47,212.93 386.98,212.92 387.49,212.91 388.00,212.90" fill="none" stroke="#000" stroke-width="1.25" stroke-linejoin="round" stroke-linecap="butt" stroke-dasharray="1.7,3.3"/>
<line x1="52.40" y1="267.30" x2="387.60" y2="267.30" stroke="#f00" stroke-width="0.8" stroke-dasharray="3.0,2.4"/>
<polyline points="50.40,266.69 50.80,266.68 51.21,266.67 51.61,266.66 52.01,266.66 52.42,266.66 52.82,266.66 53.22,266.67 53.63,266.68 54.03,266.69 54.43,266.71 54.84,266.72 55.24,266.74 55.64,266.76 56.05,266.79 56.45,266.81 56.85,266.84 57.26,266.87 57.66,266.90 58.06,266.93 58.47,266.96 58.87,266.98 59.27,267.01 59.68,267.04 60.08,267.07 60.48,267.09 60.89,267.12 61.29,267.14 61.69,267.16 62.09,267.17 62.50,267.18 62.90,267.19 63.30,267.20 63.71,267.20 64.11,267.20 64.51,267.19 64.92,267.18 65.32,267.17 65.72,267.15 66.13,267.13 66.53,267.10 66.93,267.07 67.34,267.04 67.74,267.01 68.14,266.97 68.55,266.93 68.95,266.89 69.35,266.84 69.76,266.79 70.16,266.75 70.56,266.70 70.97,266.65 71.37,266.61 71.77,266.56 72.18,266.52 72.58,266.47 72.98,266.43 73.39,266.40 73.79,266.36 74.19,266.33 74.60,266.30 75.00,266.28 75.40,266.26 75.81,266.25 76.21,266.24 76.61,266.24 77.02,266.24 77.42,266.25 77.82,266.26 78.23,266.28 78.63,266.30 79.03,266.33 79.44,266.36 79.84,266.39 80.24,266.43 80.65,266.48 81.05,266.52 81.45,266.57 81.86,266.62 82.26,266.67 82.66,266.73 83.07,266.78 83.47,266.83 83.87,266.88 84.28,266.93 84.68,266.98 85.08,267.02 85.48,267.06 85.89,267.10 86.29,267.13 86.69,267.15 87.10,267.18 87.50,267.19 87.90,267.20 88.31,267.20 88.71,267.19 89.11,267.18 89.52,267.16 89.92,267.14 90.32,267.10 90.73,267.06 91.13,267.02 91.53,266.96 91.94,266.90 92.34,266.84 92.74,266.77 93.15,266.70 93.55,266.62 93.95,266.54 94.36,266.46 94.76,266.37 95.16,266.29 95.57,266.21 95.97,266.12 96.37,266.04 96.78,265.96 97.18,265.89 97.58,265.82 97.99,265.75 98.39,265.69 98.79,265.64 99.20,265.59 99.60,265.56 100.00,265.53 100.41,265.50 100.81,265.49 101.21,265.49 101.62,265.49 102.02,265.51 102.42,265.53 102.83,265.57 103.23,265.61 103.63,265.66 104.04,265.72 104.44,265.78 104.84,265.85 105.25,265.93 105.65,266.01 106.05,266.10 106.46,266.19 106.86,266.28 107.26,266.38 107.67,266.47 108.07,266.56 108.47,266.65 108.87,266.74 109.28,266.82 109.68,266.90 110.08,266.97 110.49,267.03 110.89,267.09 111.29,267.13 111.70,267.16 112.10,267.19 112.50,267.20 112.91,267.20 113.31,267.19 113.71,267.16 114.12,267.12 114.52,267.07 114.92,267.01 115.33,266.94 115.73,266.85 116.13,266.75 116.54,266.65 116.94,266.53 117.34,266.41 117.75,266.27 118.15,266.13 118.55,265.99 118.96,265.84 119.36,265.69 119.76,265.54 120.17,265.39 120.57,265.25 120.97,265.10 121.38,264.97 121.78,264.83 122.18,264.71 122.59,264.60 122.99,264.49 123.39,264.40 123.80,264.32 124.20,264.26 124.60,264.21 125.01,264.17 125.41,264.16 125.81,264.15 126.22,264.17 126.62,264.20 127.02,264.25 127.43,264.31 127.83,264.39 128.23,264.48 128.64,264.59 129.04,264.71 129.44,264.84 129.85,264.98 130.25,265.13 130.65,265.28 131.06,265.45 131.46,265.61 131.86,265.78 132.26,265.94 132.67,266.11 133.07,266.27 133.47,266.42 133.88,266.56 134.28,266.70 134.68,266.82 135.09,266.93 135.49,267.02 135.89,267.09 136.30,267.15 136.70,267.18 137.10,267.20 137.51,267.19 137.91,267.17 138.31,267.12 138.72,267.04 139.12,266.95 139.52,266.83 139.93,266.70 140.33,266.54 140.73,266.36 141.14,266.17 141.54,265.95 141.94,265.73 142.35,265.49 142.75,265.24 143.15,264.98 143.56,264.72 143.96,264.45 144.36,264.19 144.77,263.92 145.17,263.66 145.57,263.41 145.98,263.16 146.38,262.93 146.78,262.72 147.19,262.52 147.59,262.34 147.99,262.18 148.40,262.05 148.80,261.94 149.20,261.86 149.61,261.80 150.01,261.78 150.41,261.78 150.82,261.81 151.22,261.88 151.62,261.97 152.03,262.09 152.43,262.23 152.83,262.40 153.24,262.60 153.64,262.82 154.04,263.06 154.45,263.31 154.85,263.58 155.25,263.86 155.65,264.15 156.06,264.45 156.46,264.74 156.86,265.04 157.27,265.33 157.67,265.61 158.07,265.88 158.48,266.13 158.88,266.36 159.28,266.57 159.69,266.75 160.09,266.91 160.49,267.03 160.90,267.13 161.30,267.18 161.70,267.20 162.11,267.18 162.51,267.12 162.91,267.02 163.32,266.88 163.72,266.71 164.12,266.49 164.53,266.24 164.93,265.95 165.33,265.62 165.74,265.27 166.14,264.88 166.54,264.48 166.95,264.05 167.35,263.60 167.75,263.14 168.16,262.67 168.56,262.19 168.96,261.72 169.37,261.25 169.77,260.79 170.17,260.34 170.58,259.91 170.98,259.51 171.38,259.13 171.79,258.78 172.19,258.47 172.59,258.20 173.00,257.98 173.40,257.80 173.80,257.66 174.21,257.58 174.61,257.54 175.01,257.56 175.42,257.63 175.82,257.76 176.22,257.93 176.63,258.16 177.03,258.43 177.43,258.74 177.84,259.10 178.24,259.50 178.64,259.93 179.04,260.39 179.45,260.88 179.85,261.38 180.25,261.90 180.66,262.43 181.06,262.96 181.46,263.48 181.87,263.99 182.27,264.49 182.67,264.96 183.08,265.40 183.48,265.80 183.88,266.16 184.29,266.48 184.69,266.74 185.09,266.95 185.50,267.10 185.90,267.18 186.30,267.20 186.71,267.15 187.11,267.02 187.51,266.83 187.92,266.57 188.32,266.23 188.72,265.83 189.13,265.36 189.53,264.83 189.93,264.24 190.34,263.60 190.74,262.90 191.14,262.17 191.55,261.39 191.95,260.59 192.35,259.76 192.76,258.92 193.16,258.08 193.56,257.23 193.97,256.40 194.37,255.58 194.77,254.80 195.18,254.04 195.58,253.33 195.98,252.68 196.39,252.08 196.79,251.54 197.19,251.08 197.60,250.70 198.00,250.39 198.40,250.18 198.81,250.05 199.21,250.01 199.61,250.07 200.02,250.22 200.42,250.46 200.82,250.79 201.23,251.21 201.63,251.72 202.03,252.30 202.43,252.96 202.84,253.68 203.24,254.46 203.64,255.29 204.05,256.17 204.45,257.07 204.85,258.00 205.26,258.94 205.66,259.88 206.06,260.81 206.47,261.71 206.87,262.58 207.27,263.41 207.68,264.17 208.08,264.88 208.48,265.50 208.89,266.04 209.29,266.49 209.69,266.83 210.10,267.07 210.50,267.19 210.90,267.18 211.31,267.06 211.71,266.81 212.11,266.44 212.52,265.94 212.92,265.31 213.32,264.56 213.73,263.70 214.13,262.73 214.53,261.66 214.94,260.49 215.34,259.23 215.74,257.91 216.15,256.51 216.55,255.07 216.95,253.60 217.36,252.10 217.76,250.59 218.16,249.09 218.57,247.61 218.97,246.17 219.37,244.78 219.78,243.46 220.18,242.22 220.58,241.07 220.99,240.03 221.39,239.11 221.79,238.32 222.20,237.68 222.60,237.17 223.00,236.83 223.41,236.64 223.81,236.62 224.21,236.76 224.62,237.07 225.02,237.54 225.42,238.17 225.82,238.95 226.23,239.89 226.63,240.96 227.03,242.16 227.44,243.47 227.84,244.89 228.24,246.39 228.65,247.96 229.05,249.58 229.45,251.24 229.86,252.91 230.26,254.58 230.66,256.22 231.07,257.82 231.47,259.35 231.87,260.80 232.28,262.14 232.68,263.36 233.08,264.43 233.49,265.35 233.89,266.10 234.29,266.67 234.70,267.03 235.10,267.19 235.50,267.14 235.91,266.86 236.31,266.36 236.71,265.64 237.12,264.69 237.52,263.53 237.92,262.15 238.33,260.57 238.73,258.79 239.13,256.83 239.54,254.71 239.94,252.45 240.34,250.05 240.75,247.55 241.15,244.97 241.55,242.33 241.96,239.65 242.36,236.97 242.76,234.31 243.17,231.69 243.57,229.15 243.97,226.70 244.38,224.38 244.78,222.21 245.18,220.22 245.59,218.42 245.99,216.84 246.39,215.49 246.80,214.40 247.20,213.57 247.60,213.03 248.01,212.77 248.41,212.80 248.81,213.12 249.21,213.74 249.62,214.65 250.02,215.85 250.42,217.31 250.83,219.03 251.23,221.00 251.63,223.18 252.04,225.57 252.44,228.13 252.84,230.83 253.25,233.66 253.65,236.57 254.05,239.53 254.46,242.50 254.86,245.46 255.26,248.37 255.67,251.19 256.07,253.88 256.47,256.41 256.88,258.75 257.28,260.86 257.68,262.71 258.09,264.27 258.49,265.53 258.89,266.45 259.30,267.01 259.70,267.20 260.22,266.90 260.74,266.13 261.26,265.05 261.78,263.69 262.30,261.41 262.82,258.42 263.33,255.08 263.85,251.50 264.37,247.23 264.89,242.50 265.41,237.55 265.93,232.63 266.45,227.65 266.97,222.33 267.49,217.01 268.01,212.05 268.53,207.80 269.05,204.01 269.57,200.56 270.09,197.83 270.60,195.95 271.12,194.38 271.64,193.61 272.16,193.93 272.68,194.85 273.20,196.00 273.72,197.47 274.24,199.46 274.76,201.77 275.28,204.23 275.80,206.64 276.32,208.99 276.84,211.45 277.36,213.95 277.87,216.42 278.39,218.82 278.91,221.22 279.43,223.58 279.95,225.89 280.47,228.13 280.99,230.33 281.51,232.50 282.03,234.59 282.55,236.58 283.07,238.45 283.59,240.23 284.11,241.94 284.63,243.58 285.14,245.15 285.66,246.66 286.18,248.14 286.70,249.55 287.22,250.91 287.74,252.19 288.26,253.40 288.78,254.56 289.30,255.66 289.82,256.68 290.34,257.60 290.86,258.42 291.38,259.20 291.90,259.93 292.41,260.60 292.93,261.21 293.45,261.75 293.97,262.25 294.49,262.71 295.01,263.15 295.53,263.56 296.05,263.92 296.57,264.25 297.09,264.54 297.61,264.80 298.13,265.03 298.65,265.25 299.17,265.45 299.68,265.63 300.20,265.79 300.72,265.93 301.24,266.06 301.76,266.18 302.28,266.29 302.80,266.40 303.32,266.50 303.84,266.59 304.36,266.66 304.88,266.73 305.40,266.78 305.92,266.82 306.43,266.86 306.95,266.90 307.47,266.93 307.99,266.96 308.51,266.99 309.03,267.01 309.55,267.04 310.07,267.05 310.59,267.07 311.11,267.08 311.63,267.09 312.15,267.10 312.67,267.11 313.19,267.11 313.70,267.12 314.22,267.12 314.74,267.13 315.26,267.13 315.78,267.14 316.30,267.14 316.82,267.15 317.34,267.15 317.86,267.16 318.38,267.16 318.90,267.16 319.42,267.17 319.94,267.17 320.46,267.17 320.97,267.18 321.49,267.18 322.01,267.18 322.53,267.18 323.05,267.19 323.57,267.19 324.09,267.19 324.61,267.19 325.13,267.19 325.65,267.19 326.17,267.20 326.69,267.20 327.21,267.20 327.73,267.20 328.24,267.20 328.76,267.20 329.28,267.20 329.80,267.20 330.32,267.20 330.84,267.20 331.36,267.20 331.88,267.20 332.40,267.20 332.92,267.20 333.44,267.20 333.96,267.20 334.48,267.20 335.00,267.20 335.51,267.20 336.03,267.20 336.55,267.20 337.07,267.20 337.59,267.20 338.11,267.20 338.63,267.20 339.15,267.20 339.67,267.20 340.19,267.20 340.71,267.20 341.23,267.20 341.75,267.20 342.27,267.20 342.78,267.20 343.30,267.20 343.82,267.20 344.34,267.20 344.86,267.20 345.38,267.20 345.90,267.20 346.42,267.20 346.94,267.20 347.46,267.20 347.98,267.20 348.50,267.20 349.02,267.20 349.53,267.20 350.05,267.20 350.57,267.20 351.09,267.20 351.61,267.20 352.13,267.20 352.65,267.20 353.17,267.20 353.69,267.20 354.21,267.20 354.73,267.20 355.25,267.20 355.77,267.20 356.29,267.20 356.80,267.20 357.32,267.20 357.84,267.20 358.36,267.20 358.88,267.20 359.40,267.20 359.92,267.20 360.44,267.20 360.96,267.20 361.48,267.20 362.00,267.20 362.52,267.20 363.04,267.20 363.56,267.20 364.07,267.20 364.59,267.20 365.11,267.20 365.63,267.20 366.15,267.20 366.67,267.20 367.19,267.20 367.71,267.20 368.23,267.20 368.75,267.20 369.27,267.20 369.79,267.20 370.31,267.20 370.83,267.20 371.34,267.20 371.86,267.20 372.38,267.20 372.90,267.20 373.42,267.20 373.94,267.20 374.46,267.20 374.98,267.20 375.50,267.20 376.02,267.20 376.54,267.20 377.06,267.20 377.58,267.20 378.10,267.20 378.61,267.20 379.13,267.20 379.65,267.20 380.17,267.20 380.69,267.20 381.21,267.20 381.73,267.20 382.25,267.20 382.77,267.20 383.29,267.20 383.81,267.20 384.33,267.20 384.85,267.20 385.37,267.20 385.88,267.20 386.40,267.20 386.92,267.20 387.44,267.20 387.96,267.20 388.48,267.20 389.00,267.20" fill="none" stroke="#ff0000" stroke-width="1.7" stroke-linejoin="round" stroke-linecap="butt" />
<line x1="345.50" y1="176.80" x2="345.50" y2="316.20" stroke="#ee1010" stroke-width="1.2" />
</g>
<text transform="translate(68.60,198.70) scale(0.86,1)" font-size="15.6" fill="#000" text-anchor="start" >b)</text>
<text transform="translate(276.60,201.80) scale(0.872,1)" font-size="15.1" fill="#e00" style="word-spacing:0.8px">d<tspan font-size="11" dy="3.6">g</tspan><tspan dy="-3.6"> = 8.00 Å</tspan></text>
<text transform="translate(370.30,285.70) scale(0.872,1)" font-size="15.1" fill="#e00" text-anchor="start" >IS</text>
<g clip-path="url(#clipC)">
<rect x="52.40" y="324.70" width="221.90" height="40.10" fill="#cfcfcf"/>
<line x1="52.40" y1="363.70" x2="274.30" y2="363.70" stroke="#b6b6b6" stroke-width="1.0" />
<rect x="52.40" y="418.89" width="221.90" height="45.21" fill="#a0a0a0"/>
<line x1="274.00" y1="324.70" x2="274.00" y2="464.10" stroke="#7c7c7c" stroke-width="1.5" />
<line x1="52.40" y1="359.40" x2="387.60" y2="359.40" stroke="#000" stroke-width="0.9" />
<line x1="52.40" y1="413.49" x2="274.30" y2="413.49" stroke="#000" stroke-width="0.9" />
<line x1="261.60" y1="324.70" x2="261.60" y2="464.10" stroke="#000" stroke-width="0.55" stroke-dasharray="3.4,2.5"/>
<polyline points="50.40,513.87 50.81,517.85 51.22,521.39 51.62,524.45 52.03,527.00 52.44,529.01 52.85,530.45 53.25,531.32 53.66,531.60 54.07,531.29 54.48,530.39 54.88,528.92 55.29,526.89 55.70,524.31 56.11,521.23 56.51,517.66 56.92,513.66 57.33,509.27 57.74,504.53 58.14,499.49 58.55,494.21 58.96,488.76 59.37,483.17 59.77,477.53 60.18,471.89 60.59,466.30 61.00,460.84 61.40,455.56 61.81,450.53 62.22,445.78 62.63,441.38 63.03,437.38 63.44,433.81 63.85,430.72 64.26,428.14 64.66,426.10 65.07,424.62 65.48,423.72 65.89,423.40 66.29,423.67 66.70,424.54 67.11,425.98 67.52,427.98 67.92,430.52 68.33,433.57 68.74,437.11 69.15,441.08 69.55,445.46 69.96,450.18 70.37,455.20 70.78,460.46 71.18,465.91 71.59,471.49 72.00,477.13 72.41,482.77 72.81,488.36 73.22,493.83 73.63,499.12 74.04,504.18 74.44,508.94 74.85,513.36 75.26,517.39 75.67,520.99 76.07,524.11 76.48,526.72 76.89,528.79 77.30,530.31 77.70,531.25 78.11,531.60 78.52,531.36 78.93,530.53 79.33,529.13 79.74,527.16 80.15,524.65 80.56,521.62 80.96,518.12 81.37,514.17 81.78,509.82 82.19,505.12 82.59,500.11 83.00,494.86 83.41,489.42 83.82,483.85 84.22,478.21 84.63,472.56 85.04,466.97 85.45,461.49 85.85,456.19 86.26,451.12 86.67,446.33 87.08,441.89 87.48,437.84 87.89,434.22 88.30,431.07 88.71,428.42 89.11,426.32 89.52,424.77 89.93,423.79 90.34,423.41 90.74,423.61 91.15,424.40 91.56,425.77 91.97,427.71 92.37,430.19 92.78,433.18 93.19,436.66 93.60,440.58 94.00,444.91 94.41,449.59 94.82,454.58 95.23,459.82 95.63,465.25 96.04,470.81 96.45,476.45 96.86,482.10 97.26,487.69 97.67,493.18 98.08,498.50 98.49,503.58 98.89,508.39 99.30,512.85 99.71,516.93 100.12,520.58 100.52,523.76 100.93,526.43 101.34,528.57 101.75,530.16 102.15,531.16 102.56,531.59 102.97,531.42 103.38,530.66 103.78,529.33 104.19,527.43 104.60,524.98 105.01,522.02 105.41,518.56 105.82,514.67 106.23,510.36 106.64,505.70 107.04,500.73 107.45,495.51 107.86,490.09 108.27,484.53 108.67,478.89 109.08,473.24 109.49,467.64 109.90,462.15 110.30,456.82 110.71,451.72 111.12,446.89 111.53,442.41 111.93,438.30 112.34,434.63 112.75,431.42 113.16,428.71 113.56,426.54 113.97,424.92 114.38,423.88 114.79,423.42 115.19,423.55 115.60,424.27 116.01,425.58 116.42,427.44 116.82,429.86 117.23,432.79 117.64,436.21 118.05,440.09 118.45,444.37 118.86,449.01 119.27,453.96 119.68,459.17 120.08,464.58 120.49,470.13 120.90,475.77 121.31,481.42 121.72,487.02 122.12,492.53 122.53,497.87 122.94,502.98 123.35,507.82 123.75,512.33 124.16,516.46 124.57,520.16 124.98,523.40 125.38,526.14 125.79,528.34 126.20,530.00 126.61,531.07 127.01,531.57 127.42,531.47 127.83,530.79 128.24,529.52 128.64,527.68 129.05,525.30 129.46,522.40 129.87,519.01 130.27,515.16 130.68,510.90 131.09,506.28 131.50,501.34 131.90,496.15 132.31,490.75 132.72,485.20 133.13,479.57 133.53,473.92 133.94,468.31 134.35,462.80 134.76,457.45 135.16,452.32 135.57,447.46 135.98,442.93 136.39,438.78 136.79,435.05 137.20,431.78 137.61,429.01 138.02,426.77 138.42,425.09 138.83,423.98 139.24,423.45 139.65,423.51 140.05,424.16 140.46,425.39 140.87,427.19 141.28,429.54 141.68,432.41 142.09,435.78 142.50,439.60 142.91,443.83 143.31,448.43 143.72,453.35 144.13,458.53 144.54,463.92 144.94,469.46 145.35,475.08 145.76,480.74 146.17,486.35 146.57,491.87 146.98,497.23 147.39,502.38 147.80,507.26 148.20,511.81 148.61,515.99 149.02,519.74 149.43,523.04 149.83,525.84 150.24,528.11 150.65,529.83 151.06,530.97 151.46,531.54 151.87,531.51 152.28,530.90 152.69,529.70 153.09,527.94 153.50,525.62 153.91,522.78 154.32,519.44 154.72,515.65 155.13,511.43 155.54,506.85 155.95,501.95 156.35,496.79 156.76,491.41 157.17,485.88 157.58,480.26 157.98,474.60 158.39,468.98 158.80,463.46 159.21,458.08 159.61,452.92 160.02,448.03 160.43,443.46 160.84,439.26 161.24,435.47 161.65,432.15 162.06,429.32 162.47,427.01 162.87,425.26 163.28,424.08 163.69,423.48 164.10,423.47 164.50,424.05 164.91,425.21 165.32,426.94 165.73,429.23 166.13,432.04 166.54,435.35 166.95,439.11 167.36,443.30 167.76,447.86 168.17,452.74 168.58,457.90 168.99,463.26 169.39,468.79 169.80,474.40 170.21,480.06 170.62,485.68 171.02,491.21 171.43,496.60 171.84,501.77 172.25,506.69 172.65,511.28 173.06,515.50 173.47,519.31 173.88,522.67 174.28,525.53 174.69,527.86 175.10,529.65 175.51,530.87 175.91,531.50 176.32,531.55 176.73,531.00 177.14,529.88 177.54,528.18 177.95,525.93 178.36,523.15 178.77,519.87 179.17,516.13 179.58,511.96 179.99,507.42 180.40,502.56 180.80,497.42 181.21,492.06 181.62,486.55 182.03,480.94 182.43,475.29 182.84,469.66 183.25,464.12 183.66,458.72 184.06,453.53 184.47,448.60 184.88,443.99 185.29,439.74 185.69,435.91 186.10,432.52 186.51,429.63 186.92,427.26 187.32,425.44 187.73,424.19 188.14,423.52 188.55,423.44 188.95,423.95 189.36,425.04 189.77,426.70 190.18,428.92 190.58,431.67 190.99,434.92 191.40,438.64 191.81,442.78 192.22,447.29 192.62,452.14 193.03,457.26 193.44,462.61 193.85,468.11 194.25,473.72 194.66,479.37 195.07,485.00 195.48,490.55 195.88,495.96 196.29,501.16 196.70,506.11 197.11,510.74 197.51,515.01 197.92,518.88 198.33,522.29 198.74,525.21 199.14,527.61 199.55,529.46 199.96,530.75 200.37,531.46 200.77,531.57 201.18,531.10 201.59,530.04 202.00,528.41 202.40,526.23 202.81,523.51 203.22,520.29 203.63,516.60 204.03,512.49 204.44,507.99 204.85,503.16 205.26,498.05 205.66,492.72 206.07,487.22 206.48,481.62 206.89,475.97 207.29,470.33 207.70,464.78 208.11,459.36 208.52,454.14 208.92,449.18 209.33,444.53 209.74,440.23 210.15,436.34 210.55,432.91 210.96,429.95 211.37,427.52 211.78,425.63 212.18,424.31 212.59,423.57 213.00,423.42 213.41,423.85 213.81,424.88 214.22,426.47 214.63,428.63 215.04,431.31 215.44,434.51 215.85,438.17 216.26,442.26 216.67,446.73 217.07,451.54 217.48,456.63 217.89,461.95 218.30,467.44 218.70,473.04 219.11,478.69 219.52,484.33 219.93,489.89 220.33,495.32 220.74,500.55 221.15,505.53 221.56,510.20 221.96,514.52 222.37,518.43 222.78,521.90 223.19,524.88 223.59,527.35 224.00,529.27 224.41,530.63 224.82,531.40 225.22,531.59 225.63,531.19 226.04,530.20 226.45,528.64 226.85,526.52 227.26,523.86 227.67,520.70 228.08,517.07 228.48,513.00 228.89,508.55 229.30,503.76 229.71,498.68 230.11,493.37 230.52,487.89 230.93,482.30 231.34,476.65 231.74,471.01 232.15,465.44 232.56,460.01 232.97,454.76 233.37,449.76 233.78,445.07 234.19,440.73 234.60,436.79 235.00,433.30 235.41,430.28 235.82,427.79 236.23,425.83 236.63,424.44 237.04,423.63 237.45,423.40 237.86,423.77 238.26,424.72 238.67,426.25 239.08,428.34 239.49,430.96 239.89,434.10 240.30,437.70 240.71,441.74 241.12,446.17 241.52,450.94 241.93,456.01 242.34,461.30 242.75,466.77 243.15,472.37 243.56,478.01 243.97,483.65 244.38,489.23 244.78,494.67 245.19,499.93 245.60,504.94 246.01,509.66 246.41,514.02 246.82,517.99 247.23,521.51 247.64,524.55 248.04,527.08 248.45,529.07 248.86,530.49 249.27,531.34 249.67,531.60 250.08,531.27 250.49,530.35 250.90,528.86 251.30,526.80 251.71,524.21 252.12,521.11 252.53,517.53 252.93,513.51 253.34,509.11 253.75,504.35 254.16,499.31 254.56,494.02 254.97,488.56 255.38,482.97 255.79,477.33 256.19,471.69 256.60,466.11 257.01,460.65 257.42,455.38 257.82,450.35 258.23,445.62 258.64,441.23 259.05,437.24 259.45,433.69 259.86,430.62 260.27,428.06 260.68,426.04 261.08,424.58 261.49,423.69 261.90,423.40" fill="none" stroke="#000" stroke-width="0.9" stroke-linejoin="round" stroke-linecap="butt" />
<polyline points="261.90,422.13 262.04,422.24 262.18,422.55 262.33,423.08 262.47,423.81 262.61,424.75 262.75,425.88 262.90,427.21 263.04,428.74 263.18,430.44 263.32,432.32 263.47,434.36 263.61,436.57 263.75,438.92 263.89,441.41 264.04,444.03 264.18,446.76 264.32,449.60 264.46,452.53 264.61,455.54 264.75,458.62 264.89,461.75 265.03,464.92 265.17,468.11 265.32,471.32 265.46,474.52 265.60,477.71 265.74,480.87 265.89,483.98 266.03,487.04 266.17,490.03 266.31,492.93 266.46,495.74 266.60,498.44 266.74,501.02 266.88,503.47 267.03,505.78 267.17,507.94 267.31,509.94 267.45,511.76 267.59,513.41 267.74,514.88 267.88,516.15 268.02,517.23 268.16,518.10 268.31,518.77 268.45,519.24 268.59,519.49 268.73,519.53 268.88,519.36 269.02,518.98 269.16,518.40 269.30,517.60 269.45,516.60 269.59,515.41 269.73,514.02 269.87,512.44 270.02,510.69 270.16,508.76 270.30,506.67" fill="none" stroke="#000" stroke-width="1.1" stroke-linejoin="round" stroke-linecap="butt" />
<polyline points="273.60,478.00 273.69,476.44 273.78,474.91 273.87,473.41 273.96,471.94 274.05,470.51 274.14,469.13 274.23,467.80 274.32,466.53 274.41,465.31 274.50,464.15 274.59,463.06 274.69,462.02 274.78,461.00 274.87,460.00 274.96,459.03 275.05,458.08 275.14,457.16 275.23,456.27 275.32,455.41 275.41,454.58 275.50,453.78 275.59,453.02 275.68,452.29 275.77,451.59 275.86,450.93 275.95,450.31 276.04,449.73 276.13,449.17 276.22,448.61 276.31,448.08 276.40,447.55 276.49,447.04 276.58,446.55 276.68,446.07 276.77,445.60 276.86,445.14 276.95,444.70 277.04,444.28 277.13,443.86 277.22,443.46 277.31,443.07 277.40,442.69 277.49,442.33 277.58,441.98 277.67,441.64 277.76,441.31 277.85,440.99 277.94,440.69 278.03,440.40 278.12,440.11 278.21,439.82 278.30,439.54 278.39,439.26 278.48,438.99 278.57,438.72 278.67,438.45 278.76,438.19 278.85,437.94 278.94,437.69 279.03,437.45 279.12,437.21 279.21,436.98 279.30,436.77 279.39,436.55 279.48,436.35 279.57,436.16 279.66,435.98 279.75,435.80 279.84,435.64 279.93,435.49 280.02,435.35 280.11,435.22 280.20,435.11 280.29,435.01 280.38,434.91 280.47,434.82 280.56,434.73 280.66,434.64 280.75,434.55 280.84,434.46 280.93,434.37 281.02,434.29 281.11,434.21 281.20,434.13 281.29,434.05 281.38,433.98 281.47,433.91 281.56,433.84 281.65,433.78 281.74,433.72 281.83,433.67 281.92,433.62 282.01,433.57 282.10,433.53 282.19,433.50 282.28,433.47 282.37,433.44 282.46,433.42 282.55,433.41 282.65,433.40 282.74,433.40 282.83,433.41 282.92,433.42 283.01,433.45 283.10,433.48 283.19,433.52 283.28,433.56 283.37,433.61 283.46,433.67 283.55,433.73 283.64,433.80 283.73,433.88 283.82,433.95 283.91,434.04 284.00,434.13 284.09,434.22 284.18,434.32 284.27,434.41 284.36,434.52 284.45,434.62 284.54,434.73 284.64,434.84 284.73,434.95 284.82,435.07 284.91,435.18 285.00,435.30 285.09,435.42 285.18,435.56 285.27,435.71 285.36,435.88 285.45,436.06 285.54,436.26 285.63,436.47 285.72,436.69 285.81,436.92 285.90,437.16 285.99,437.42 286.08,437.68 286.17,437.95 286.26,438.23 286.35,438.52 286.44,438.82 286.53,439.12 286.63,439.43 286.72,439.74 286.81,440.06 286.90,440.39 286.99,440.72 287.08,441.05 287.17,441.38 287.26,441.72 287.35,442.07 287.44,442.44 287.53,442.83 287.62,443.23 287.71,443.65 287.80,444.08 287.89,444.52 287.98,444.98 288.07,445.45 288.16,445.94 288.25,446.44 288.34,446.95 288.43,447.47 288.52,448.01 288.62,448.55 288.71,449.11 288.80,449.68 288.89,450.26 288.98,450.85 289.07,451.45 289.16,452.08 289.25,452.74 289.34,453.42 289.43,454.12 289.52,454.85 289.61,455.60 289.70,456.37 289.79,457.16 289.88,457.98 289.97,458.81 290.06,459.66 290.15,460.53 290.24,461.42 290.33,462.33 290.42,463.25 290.51,464.20 290.61,465.19 290.70,466.21 290.79,467.27 290.88,468.35 290.97,469.47 291.06,470.61 291.15,471.79 291.24,472.98 291.33,474.21 291.42,475.45 291.51,476.71 291.60,478.00" fill="none" stroke="#000" stroke-width="1.1" stroke-linejoin="round" stroke-linecap="butt" />
<polyline points="315.60,478.00 315.84,474.76 316.09,471.47 316.33,468.13 316.58,464.75 316.82,461.29 317.06,457.64 317.31,453.94 317.55,450.36 317.79,447.07 318.04,444.10 318.28,441.29 318.53,438.62 318.77,436.06 319.01,433.57 319.26,431.13 319.50,428.72 319.74,426.37 319.99,424.09 320.23,421.90 320.48,419.81 320.72,417.84 320.96,415.96 321.21,414.13 321.45,412.37 321.70,410.69 321.94,409.08 322.18,407.55 322.43,406.11 322.67,404.76 322.91,403.45 323.16,402.18 323.40,400.97 323.65,399.80 323.89,398.68 324.13,397.62 324.38,396.61 324.62,395.66 324.86,394.77 325.11,393.92 325.35,393.11 325.60,392.33 325.84,391.58 326.08,390.86 326.33,390.16 326.57,389.50 326.82,388.86 327.06,388.25 327.30,387.66 327.55,387.09 327.79,386.54 328.03,386.01 328.28,385.49 328.52,384.98 328.77,384.49 329.01,384.02 329.25,383.56 329.50,383.13 329.74,382.70 329.98,382.30 330.23,381.91 330.47,381.54 330.72,381.19 330.96,380.84 331.20,380.51 331.45,380.18 331.69,379.87 331.94,379.56 332.18,379.26 332.42,378.98 332.67,378.70 332.91,378.42 333.15,378.16 333.40,377.90 333.64,377.65 333.89,377.40 334.13,377.16 334.37,376.93 334.62,376.70 334.86,376.47 335.11,376.25 335.35,376.03 335.59,375.81 335.84,375.60 336.08,375.39 336.32,375.19 336.57,374.99 336.81,374.79 337.06,374.60 337.30,374.42 337.54,374.24 337.79,374.07 338.03,373.90 338.27,373.74 338.52,373.58 338.76,373.44 339.01,373.30 339.25,373.16 339.49,373.03 339.74,372.90 339.98,372.77 340.23,372.64 340.47,372.52 340.71,372.40 340.96,372.28 341.20,372.17 341.44,372.05 341.69,371.94 341.93,371.83 342.18,371.73 342.42,371.62 342.66,371.52 342.91,371.42 343.15,371.32 343.39,371.23 343.64,371.13 343.88,371.04 344.13,370.95 344.37,370.86 344.61,370.78 344.86,370.69 345.10,370.61 345.35,370.53 345.59,370.46 345.83,370.38 346.08,370.31 346.32,370.23 346.56,370.16 346.81,370.09 347.05,370.02 347.30,369.96 347.54,369.89 347.78,369.82 348.03,369.76 348.27,369.70 348.51,369.63 348.76,369.57 349.00,369.51 349.25,369.45 349.49,369.39 349.73,369.34 349.98,369.28 350.22,369.23 350.47,369.17 350.71,369.12 350.95,369.07 351.20,369.01 351.44,368.96 351.68,368.92 351.93,368.87 352.17,368.82 352.42,368.77 352.66,368.73 352.90,368.69 353.15,368.64 353.39,368.60 353.63,368.56 353.88,368.52 354.12,368.48 354.37,368.44 354.61,368.40 354.85,368.37 355.10,368.33 355.34,368.29 355.59,368.26 355.83,368.22 356.07,368.19 356.32,368.16 356.56,368.12 356.80,368.09 357.05,368.06 357.29,368.03 357.54,367.99 357.78,367.96 358.02,367.93 358.27,367.90 358.51,367.87 358.75,367.85 359.00,367.82 359.24,367.79 359.49,367.76 359.73,367.73 359.97,367.71 360.22,367.68 360.46,367.65 360.71,367.63 360.95,367.60 361.19,367.58 361.44,367.55 361.68,367.53 361.92,367.50 362.17,367.48 362.41,367.46 362.66,367.43 362.90,367.41 363.14,367.39 363.39,367.36 363.63,367.34 363.87,367.32 364.12,367.30 364.36,367.28 364.61,367.25 364.85,367.23 365.09,367.21 365.34,367.19 365.58,367.17 365.83,367.15 366.07,367.13 366.31,367.11 366.56,367.09 366.80,367.07 367.04,367.05 367.29,367.03 367.53,367.01 367.78,366.99 368.02,366.97 368.26,366.96 368.51,366.94 368.75,366.92 368.99,366.90 369.24,366.88 369.48,366.87 369.73,366.85 369.97,366.83 370.21,366.81 370.46,366.80 370.70,366.78 370.95,366.76 371.19,366.75 371.43,366.73 371.68,366.71 371.92,366.70 372.16,366.68 372.41,366.66 372.65,366.65 372.90,366.63 373.14,366.62 373.38,366.60 373.63,366.59 373.87,366.57 374.12,366.55 374.36,366.54 374.60,366.52 374.85,366.51 375.09,366.49 375.33,366.48 375.58,366.46 375.82,366.45 376.07,366.44 376.31,366.42 376.55,366.41 376.80,366.39 377.04,366.38 377.28,366.36 377.53,366.35 377.77,366.33 378.02,366.32 378.26,366.31 378.50,366.29 378.75,366.28 378.99,366.26 379.24,366.25 379.48,366.24 379.72,366.22 379.97,366.21 380.21,366.20 380.45,366.18 380.70,366.17 380.94,366.16 381.19,366.14 381.43,366.13 381.67,366.12 381.92,366.10 382.16,366.09 382.40,366.08 382.65,366.07 382.89,366.05 383.14,366.04 383.38,366.03 383.62,366.02 383.87,366.01 384.11,365.99 384.36,365.98 384.60,365.97 384.84,365.96 385.09,365.95 385.33,365.94 385.57,365.92 385.82,365.91 386.06,365.90 386.31,365.89 386.55,365.88 386.79,365.87 387.04,365.86 387.28,365.85 387.52,365.84 387.77,365.83 388.01,365.82 388.26,365.81 388.50,365.80" fill="none" stroke="#000" stroke-width="1.1" stroke-linejoin="round" stroke-linecap="butt" />
<line x1="52.40" y1="417.50" x2="387.60" y2="417.50" stroke="#f00" stroke-width="0.8" stroke-dasharray="3.0,2.4"/>
<polyline points="50.40,415.67 50.80,415.64 51.21,415.61 51.61,415.59 52.01,415.58 52.42,415.58 52.82,415.60 53.23,415.62 53.63,415.65 54.03,415.69 54.44,415.74 54.84,415.79 55.24,415.86 55.65,415.93 56.05,416.01 56.45,416.09 56.86,416.18 57.26,416.28 57.67,416.37 58.07,416.47 58.47,416.57 58.88,416.66 59.28,416.76 59.68,416.85 60.09,416.94 60.49,417.02 60.90,417.10 61.30,417.17 61.70,417.23 62.11,417.29 62.51,417.33 62.91,417.37 63.32,417.39 63.72,417.40 64.12,417.40 64.53,417.39 64.93,417.36 65.34,417.32 65.74,417.27 66.14,417.21 66.55,417.14 66.95,417.06 67.35,416.97 67.76,416.87 68.16,416.76 68.56,416.64 68.97,416.51 69.37,416.38 69.78,416.25 70.18,416.12 70.58,415.98 70.99,415.84 71.39,415.71 71.79,415.57 72.20,415.45 72.60,415.32 73.01,415.21 73.41,415.10 73.81,415.00 74.22,414.91 74.62,414.84 75.02,414.77 75.43,414.72 75.83,414.69 76.23,414.66 76.64,414.66 77.04,414.66 77.45,414.68 77.85,414.72 78.25,414.77 78.66,414.83 79.06,414.91 79.46,415.00 79.87,415.10 80.27,415.22 80.67,415.34 81.08,415.47 81.48,415.60 81.89,415.75 82.29,415.89 82.69,416.04 83.10,416.19 83.50,416.33 83.90,416.48 84.31,416.61 84.71,416.75 85.11,416.87 85.52,416.98 85.92,417.09 86.33,417.18 86.73,417.25 87.13,417.31 87.54,417.36 87.94,417.39 88.34,417.40 88.75,417.39 89.15,417.37 89.56,417.33 89.96,417.26 90.36,417.18 90.77,417.09 91.17,416.97 91.57,416.85 91.98,416.70 92.38,416.54 92.78,416.37 93.19,416.19 93.59,416.00 94.00,415.81 94.40,415.60 94.80,415.40 95.21,415.19 95.61,414.98 96.01,414.78 96.42,414.58 96.82,414.39 97.22,414.21 97.63,414.04 98.03,413.88 98.44,413.74 98.84,413.61 99.24,413.50 99.65,413.41 100.05,413.34 100.45,413.29 100.86,413.26 101.26,413.26 101.66,413.27 102.07,413.31 102.47,413.37 102.88,413.46 103.28,413.56 103.68,413.68 104.09,413.82 104.49,413.98 104.89,414.16 105.30,414.34 105.70,414.54 106.11,414.75 106.51,414.97 106.91,415.19 107.32,415.41 107.72,415.63 108.12,415.85 108.53,416.07 108.93,416.27 109.33,416.47 109.74,416.65 110.14,416.82 110.55,416.97 110.95,417.10 111.35,417.21 111.76,417.29 112.16,417.36 112.56,417.39 112.97,417.40 113.37,417.38 113.77,417.34 114.18,417.26 114.58,417.16 114.99,417.03 115.39,416.88 115.79,416.70 116.20,416.50 116.60,416.27 117.00,416.03 117.41,415.77 117.81,415.49 118.22,415.20 118.62,414.90 119.02,414.59 119.43,414.28 119.83,413.97 120.23,413.66 120.64,413.35 121.04,413.06 121.44,412.77 121.85,412.50 122.25,412.25 122.66,412.02 123.06,411.81 123.46,411.62 123.87,411.47 124.27,411.34 124.67,411.24 125.08,411.18 125.48,411.15 125.88,411.15 126.29,411.18 126.69,411.25 127.10,411.36 127.50,411.49 127.90,411.66 128.31,411.85 128.71,412.07 129.11,412.32 129.52,412.59 129.92,412.88 130.32,413.18 130.73,413.50 131.13,413.83 131.54,414.16 131.94,414.50 132.34,414.84 132.75,415.17 133.15,415.49 133.55,415.79 133.96,416.08 134.36,416.35 134.77,416.60 135.17,416.81 135.57,417.00 135.98,417.15 136.38,417.27 136.78,417.35 137.19,417.39 137.59,417.40 137.99,417.36 138.40,417.27 138.80,417.15 139.21,416.98 139.61,416.78 140.01,416.54 140.42,416.25 140.82,415.94 141.22,415.59 141.63,415.21 142.03,414.81 142.43,414.38 142.84,413.94 143.24,413.48 143.65,413.02 144.05,412.55 144.45,412.07 144.86,411.61 145.26,411.15 145.66,410.71 146.07,410.29 146.47,409.88 146.87,409.51 147.28,409.17 147.68,408.87 148.09,408.60 148.49,408.38 148.89,408.20 149.30,408.07 149.70,407.99 150.10,407.95 150.51,407.97 150.91,408.04 151.32,408.16 151.72,408.33 152.12,408.55 152.53,408.81 152.93,409.12 153.33,409.46 153.74,409.85 154.14,410.26 154.54,410.71 154.95,411.18 155.35,411.66 155.76,412.16 156.16,412.67 156.56,413.18 156.97,413.68 157.37,414.17 157.77,414.65 158.18,415.11 158.58,415.54 158.98,415.93 159.39,416.29 159.79,416.60 160.20,416.87 160.60,417.09 161.00,417.25 161.41,417.35 161.81,417.40 162.21,417.38 162.62,417.30 163.02,417.16 163.43,416.95 163.83,416.68 164.23,416.36 164.64,415.97 165.04,415.53 165.44,415.04 165.85,414.50 166.25,413.91 166.65,413.30 167.06,412.64 167.46,411.97 167.87,411.27 168.27,410.57 168.67,409.85 169.08,409.14 169.48,408.44 169.88,407.76 170.29,407.10 170.69,406.47 171.09,405.88 171.50,405.33 171.90,404.83 172.31,404.39 172.71,404.00 173.11,403.69 173.52,403.44 173.92,403.26 174.32,403.16 174.73,403.14 175.13,403.19 175.53,403.32 175.94,403.52 176.34,403.80 176.75,404.15 177.15,404.57 177.55,405.05 177.96,405.59 178.36,406.18 178.76,406.83 179.17,407.51 179.57,408.22 179.98,408.97 180.38,409.72 180.78,410.49 181.19,411.26 181.59,412.01 181.99,412.75 182.40,413.47 182.80,414.14 183.20,414.77 183.61,415.36 184.01,415.88 184.42,416.33 184.82,416.71 185.22,417.01 185.63,417.23 186.03,417.36 186.43,417.40 186.84,417.34 187.24,417.19 187.64,416.95 188.05,416.61 188.45,416.18 188.86,415.66 189.26,415.05 189.66,414.36 190.07,413.59 190.47,412.75 190.87,411.86 191.28,410.91 191.68,409.91 192.08,408.88 192.49,407.82 192.89,406.75 193.30,405.68 193.70,404.61 194.10,403.55 194.51,402.53 194.91,401.55 195.31,400.61 195.72,399.74 196.12,398.93 196.53,398.21 196.93,397.56 197.33,397.02 197.74,396.57 198.14,396.23 198.54,396.00 198.95,395.88 199.35,395.87 199.75,395.99 200.16,396.22 200.56,396.56 200.97,397.01 201.37,397.57 201.77,398.23 202.18,398.99 202.58,399.83 202.98,400.75 203.39,401.74 203.79,402.79 204.19,403.88 204.60,405.01 205.00,406.16 205.41,407.32 205.81,408.48 206.21,409.61 206.62,410.72 207.02,411.78 207.42,412.78 207.83,413.71 208.23,414.56 208.64,415.32 209.04,415.97 209.44,416.51 209.85,416.93 210.25,417.22 210.65,417.37 211.06,417.39 211.46,417.26 211.86,416.99 212.27,416.58 212.67,416.02 213.08,415.33 213.48,414.50 213.88,413.54 214.29,412.46 214.69,411.27 215.09,409.98 215.50,408.60 215.90,407.14 216.30,405.62 216.71,404.05 217.11,402.45 217.52,400.82 217.92,399.20 218.32,397.59 218.73,396.02 219.13,394.49 219.53,393.02 219.94,391.64 220.34,390.35 220.74,389.17 221.15,388.11 221.55,387.18 221.96,386.40 222.36,385.77 222.76,385.30 223.17,385.01 223.57,384.88 223.97,384.93 224.38,385.15 224.78,385.55 225.19,386.12 225.59,386.85 225.99,387.75 226.40,388.79 226.80,389.97 227.20,391.28 227.61,392.71 228.01,394.23 228.41,395.84 228.82,397.51 229.22,399.22 229.63,400.97 230.03,402.72 230.43,404.45 230.84,406.16 231.24,407.81 231.64,409.38 232.05,410.87 232.45,412.24 232.85,413.48 233.26,414.58 233.66,415.51 234.07,416.27 234.47,416.84 234.87,417.22 235.28,417.39 235.68,417.35 236.08,417.09 236.49,416.62 236.89,415.93 237.29,415.02 237.70,413.91 238.10,412.60 238.51,411.09 238.91,409.41 239.31,407.57 239.72,405.57 240.12,403.45 240.52,401.22 240.93,398.89 241.33,396.51 241.74,394.07 242.14,391.62 242.54,389.17 242.95,386.76 243.35,384.40 243.75,382.11 244.16,379.94 244.56,377.89 244.96,375.99 245.37,374.26 245.77,372.72 246.18,371.38 246.58,370.27 246.98,369.40 247.39,368.77 247.79,368.40 248.19,368.29 248.60,368.44 249.00,368.86 249.40,369.54 249.81,370.48 250.21,371.66 250.62,373.08 251.02,374.72 251.42,376.57 251.83,378.60 252.23,380.80 252.63,383.14 253.04,385.60 253.44,388.15 253.85,390.75 254.25,393.39 254.65,396.03 255.06,398.64 255.46,401.19 255.86,403.65 256.27,405.99 256.67,408.19 257.07,410.20 257.48,412.01 257.88,413.60 258.29,414.93 258.69,415.99 259.09,416.77 259.50,417.24 259.90,417.40 260.33,417.10 260.76,416.48 261.20,415.64 261.63,414.67 262.06,413.46 262.49,411.76 262.92,409.70 263.35,407.42 263.79,405.08 264.22,402.56 264.65,399.72 265.08,396.68 265.51,393.55 265.94,390.45 266.38,387.48 266.81,384.45 267.24,381.32 267.67,378.25 268.10,375.37 268.54,372.83 268.97,370.73 269.40,368.80 269.83,367.05 270.26,365.61 270.69,364.61 271.13,363.90 271.56,363.30 271.99,362.95 272.42,362.95 272.85,363.27 273.28,363.80 273.72,364.43 274.15,365.34 274.58,366.64 275.01,368.14 275.44,369.65 275.88,371.23 276.31,372.93 276.74,374.72 277.17,376.57 277.60,378.51 278.03,380.52 278.47,382.57 278.90,384.62 279.33,386.64 279.76,388.69 280.19,390.79 280.63,392.89 281.06,394.94 281.49,396.89 281.92,398.69 282.35,400.34 282.78,401.92 283.22,403.41 283.65,404.82 284.08,406.13 284.51,407.33 284.94,408.45 285.37,409.50 285.81,410.50 286.24,411.41 286.67,412.24 287.10,412.96 287.53,413.65 287.97,414.30 288.40,414.89 288.83,415.40 289.26,415.82 289.69,416.13 290.12,416.42 290.56,416.69 290.99,416.91 291.42,417.09 291.85,417.18 292.28,417.18 292.71,417.04 293.15,416.77 293.58,416.41 294.01,416.00 294.44,415.56 294.87,415.01 295.31,414.23 295.74,413.34 296.17,412.48 296.60,411.75 297.03,411.24 297.46,410.76 297.90,410.32 298.33,409.99 298.76,409.81 299.19,409.87 299.62,410.17 300.05,410.64 300.49,411.19 300.92,411.76 301.35,412.54 301.78,413.49 302.21,414.46 302.65,415.31 303.08,415.88 303.51,416.33 303.94,416.74 304.37,417.05 304.80,417.19 305.24,417.14 305.67,416.90 306.10,416.53 306.53,416.09 306.96,415.64 307.39,415.11 307.83,414.43 308.26,413.67 308.69,412.88 309.12,412.15 309.55,411.53 309.99,410.96 310.42,410.39 310.85,409.85 311.28,409.40 311.71,409.05 312.14,408.84 312.58,408.68 313.01,408.55 313.44,408.45 313.87,408.40 314.30,408.42 314.74,408.49 315.17,408.61 315.60,408.77 316.03,408.93 316.46,409.12 316.89,409.37 317.33,409.67 317.76,410.01 318.19,410.37 318.62,410.71 319.05,411.04 319.48,411.35 319.92,411.67 320.35,411.99 320.78,412.31 321.21,412.63 321.64,412.94 322.08,413.23 322.51,413.50 322.94,413.77 323.37,414.03 323.80,414.29 324.23,414.54 324.67,414.77 325.10,415.00 325.53,415.20 325.96,415.38 326.39,415.55 326.82,415.71 327.26,415.86 327.69,416.00 328.12,416.13 328.55,416.25 328.98,416.35 329.42,416.44 329.85,416.53 330.28,416.61 330.71,416.68 331.14,416.75 331.57,416.82 332.01,416.88 332.44,416.94 332.87,416.99 333.30,417.04 333.73,417.08 334.16,417.11 334.60,417.15 335.03,417.18 335.46,417.22 335.89,417.25 336.32,417.28 336.76,417.31 337.19,417.34 337.62,417.36 338.05,417.38 338.48,417.39 338.91,417.40 339.35,417.40 339.78,417.40 340.21,417.40 340.64,417.40 341.07,417.40 341.51,417.40 341.94,417.40 342.37,417.40 342.80,417.40 343.23,417.40 343.66,417.40 344.10,417.40 344.53,417.40 344.96,417.40 345.39,417.40 345.82,417.40 346.25,417.40 346.69,417.40 347.12,417.40 347.55,417.40 347.98,417.40 348.41,417.40 348.85,417.40 349.28,417.40 349.71,417.40 350.14,417.40 350.57,417.40 351.00,417.40 351.44,417.40 351.87,417.40 352.30,417.40 352.73,417.40 353.16,417.40 353.59,417.40 354.03,417.40 354.46,417.40 354.89,417.40 355.32,417.40 355.75,417.40 356.19,417.40 356.62,417.40 357.05,417.40 357.48,417.40 357.91,417.40 358.34,417.40 358.78,417.40 359.21,417.40 359.64,417.40 360.07,417.40 360.50,417.40 360.93,417.40 361.37,417.40 361.80,417.40 362.23,417.40 362.66,417.40 363.09,417.40 363.53,417.40 363.96,417.40 364.39,417.40 364.82,417.40 365.25,417.40 365.68,417.40 366.12,417.40 366.55,417.40 366.98,417.40 367.41,417.40 367.84,417.40 368.27,417.40 368.71,417.40 369.14,417.40 369.57,417.40 370.00,417.40 370.43,417.40 370.87,417.40 371.30,417.40 371.73,417.40 372.16,417.40 372.59,417.40 373.02,417.40 373.46,417.40 373.89,417.40 374.32,417.40 374.75,417.40 375.18,417.40 375.62,417.40 376.05,417.40 376.48,417.40 376.91,417.40 377.34,417.40 377.77,417.40 378.21,417.40 378.64,417.40 379.07,417.40 379.50,417.40 379.93,417.40 380.36,417.40 380.80,417.40 381.23,417.40 381.66,417.40 382.09,417.40 382.52,417.40 382.96,417.40 383.39,417.40 383.82,417.40 384.25,417.40 384.68,417.40 385.11,417.40 385.55,417.40 385.98,417.40 386.41,417.40 386.84,417.40 387.27,417.40 387.70,417.40 388.14,417.40 388.57,417.40 389.00,417.40" fill="none" stroke="#ff0000" stroke-width="1.7" stroke-linejoin="round" stroke-linecap="butt" />
<line x1="303.70" y1="324.70" x2="303.70" y2="464.10" stroke="#ee1010" stroke-width="1.2" />
</g>
<text transform="translate(68.60,346.60) scale(0.86,1)" font-size="15.6" fill="#000" text-anchor="start" >c)</text>
<text transform="translate(309.20,349.40) scale(0.872,1)" font-size="15.1" fill="#e00" style="word-spacing:0.8px">d<tspan font-size="11" dy="3.6">g</tspan><tspan dy="-3.6"> = 4.00 Å</tspan></text>
<text transform="translate(370.30,436.80) scale(0.872,1)" font-size="15.1" fill="#e00" text-anchor="start" >IS</text>
<g clip-path="url(#clipD)">
<rect x="52.40" y="472.60" width="221.90" height="40.00" fill="#cfcfcf"/>
<line x1="52.40" y1="511.50" x2="274.30" y2="511.50" stroke="#b6b6b6" stroke-width="1.0" />
<rect x="52.40" y="566.99" width="221.90" height="45.01" fill="#a0a0a0"/>
<line x1="274.00" y1="472.60" x2="274.00" y2="612.00" stroke="#7c7c7c" stroke-width="1.5" />
<line x1="52.40" y1="508.50" x2="387.60" y2="508.50" stroke="#000" stroke-width="0.9" />
<line x1="52.40" y1="561.39" x2="274.30" y2="561.39" stroke="#000" stroke-width="0.9" />
<line x1="261.60" y1="472.60" x2="261.60" y2="612.00" stroke="#000" stroke-width="0.55" stroke-dasharray="3.4,2.5"/>
<polyline points="50.40,661.77 50.81,665.75 51.22,669.29 51.62,672.35 52.03,674.90 52.44,676.91 52.85,678.35 53.25,679.22 53.66,679.50 54.07,679.19 54.48,678.29 54.88,676.82 55.29,674.79 55.70,672.21 56.11,669.13 56.51,665.56 56.92,661.56 57.33,657.17 57.74,652.43 58.14,647.39 58.55,642.11 58.96,636.66 59.37,631.07 59.77,625.43 60.18,619.79 60.59,614.20 61.00,608.74 61.40,603.46 61.81,598.43 62.22,593.68 62.63,589.28 63.03,585.28 63.44,581.71 63.85,578.62 64.26,576.04 64.66,574.00 65.07,572.52 65.48,571.62 65.89,571.30 66.29,571.57 66.70,572.44 67.11,573.88 67.52,575.88 67.92,578.42 68.33,581.47 68.74,585.01 69.15,588.98 69.55,593.36 69.96,598.08 70.37,603.10 70.78,608.36 71.18,613.81 71.59,619.39 72.00,625.03 72.41,630.67 72.81,636.26 73.22,641.73 73.63,647.02 74.04,652.08 74.44,656.84 74.85,661.26 75.26,665.29 75.67,668.89 76.07,672.01 76.48,674.62 76.89,676.69 77.30,678.21 77.70,679.15 78.11,679.50 78.52,679.26 78.93,678.43 79.33,677.03 79.74,675.06 80.15,672.55 80.56,669.52 80.96,666.02 81.37,662.07 81.78,657.72 82.19,653.02 82.59,648.01 83.00,642.76 83.41,637.32 83.82,631.75 84.22,626.11 84.63,620.46 85.04,614.87 85.45,609.39 85.85,604.09 86.26,599.02 86.67,594.23 87.08,589.79 87.48,585.74 87.89,582.12 88.30,578.97 88.71,576.32 89.11,574.22 89.52,572.67 89.93,571.69 90.34,571.31 90.74,571.51 91.15,572.30 91.56,573.67 91.97,575.61 92.37,578.09 92.78,581.08 93.19,584.56 93.60,588.48 94.00,592.81 94.41,597.49 94.82,602.48 95.23,607.72 95.63,613.15 96.04,618.71 96.45,624.35 96.86,630.00 97.26,635.59 97.67,641.08 98.08,646.40 98.49,651.48 98.89,656.29 99.30,660.75 99.71,664.83 100.12,668.48 100.52,671.66 100.93,674.33 101.34,676.47 101.75,678.06 102.15,679.06 102.56,679.49 102.97,679.32 103.38,678.56 103.78,677.23 104.19,675.33 104.60,672.88 105.01,669.92 105.41,666.46 105.82,662.57 106.23,658.26 106.64,653.60 107.04,648.63 107.45,643.41 107.86,637.99 108.27,632.43 108.67,626.79 109.08,621.14 109.49,615.54 109.90,610.05 110.30,604.72 110.71,599.62 111.12,594.79 111.53,590.31 111.93,586.20 112.34,582.53 112.75,579.32 113.16,576.61 113.56,574.44 113.97,572.82 114.38,571.78 114.79,571.32 115.19,571.45 115.60,572.17 116.01,573.48 116.42,575.34 116.82,577.76 117.23,580.69 117.64,584.11 118.05,587.99 118.45,592.27 118.86,596.91 119.27,601.86 119.68,607.07 120.08,612.48 120.49,618.03 120.90,623.67 121.31,629.32 121.72,634.92 122.12,640.43 122.53,645.77 122.94,650.88 123.35,655.72 123.75,660.23 124.16,664.36 124.57,668.06 124.98,671.30 125.38,674.04 125.79,676.24 126.20,677.90 126.61,678.97 127.01,679.47 127.42,679.37 127.83,678.69 128.24,677.42 128.64,675.58 129.05,673.20 129.46,670.30 129.87,666.91 130.27,663.06 130.68,658.80 131.09,654.18 131.50,649.24 131.90,644.05 132.31,638.65 132.72,633.10 133.13,627.47 133.53,621.82 133.94,616.21 134.35,610.70 134.76,605.35 135.16,600.22 135.57,595.36 135.98,590.83 136.39,586.68 136.79,582.95 137.20,579.68 137.61,576.91 138.02,574.67 138.42,572.99 138.83,571.88 139.24,571.35 139.65,571.41 140.05,572.06 140.46,573.29 140.87,575.09 141.28,577.44 141.68,580.31 142.09,583.68 142.50,587.50 142.91,591.73 143.31,596.33 143.72,601.25 144.13,606.43 144.54,611.82 144.94,617.36 145.35,622.98 145.76,628.64 146.17,634.25 146.57,639.77 146.98,645.13 147.39,650.28 147.80,655.16 148.20,659.71 148.61,663.89 149.02,667.64 149.43,670.94 149.83,673.74 150.24,676.01 150.65,677.73 151.06,678.87 151.46,679.44 151.87,679.41 152.28,678.80 152.69,677.60 153.09,675.84 153.50,673.52 153.91,670.68 154.32,667.34 154.72,663.55 155.13,659.33 155.54,654.75 155.95,649.85 156.35,644.69 156.76,639.31 157.17,633.78 157.58,628.16 157.98,622.50 158.39,616.88 158.80,611.36 159.21,605.98 159.61,600.82 160.02,595.93 160.43,591.36 160.84,587.16 161.24,583.37 161.65,580.05 162.06,577.22 162.47,574.91 162.87,573.16 163.28,571.98 163.69,571.38 164.10,571.37 164.50,571.95 164.91,573.11 165.32,574.84 165.73,577.13 166.13,579.94 166.54,583.25 166.95,587.01 167.36,591.20 167.76,595.76 168.17,600.64 168.58,605.80 168.99,611.16 169.39,616.69 169.80,622.30 170.21,627.96 170.62,633.58 171.02,639.11 171.43,644.50 171.84,649.67 172.25,654.59 172.65,659.18 173.06,663.40 173.47,667.21 173.88,670.57 174.28,673.43 174.69,675.76 175.10,677.55 175.51,678.77 175.91,679.40 176.32,679.45 176.73,678.90 177.14,677.78 177.54,676.08 177.95,673.83 178.36,671.05 178.77,667.77 179.17,664.03 179.58,659.86 179.99,655.32 180.40,650.46 180.80,645.32 181.21,639.96 181.62,634.45 182.03,628.84 182.43,623.19 182.84,617.56 183.25,612.02 183.66,606.62 184.06,601.43 184.47,596.50 184.88,591.89 185.29,587.64 185.69,583.81 186.10,580.42 186.51,577.53 186.92,575.16 187.32,573.34 187.73,572.09 188.14,571.42 188.55,571.34 188.95,571.85 189.36,572.94 189.77,574.60 190.18,576.82 190.58,579.57 190.99,582.82 191.40,586.54 191.81,590.68 192.22,595.19 192.62,600.04 193.03,605.16 193.44,610.51 193.85,616.01 194.25,621.62 194.66,627.27 195.07,632.90 195.48,638.45 195.88,643.86 196.29,649.06 196.70,654.01 197.11,658.64 197.51,662.91 197.92,666.78 198.33,670.19 198.74,673.11 199.14,675.51 199.55,677.36 199.96,678.65 200.37,679.36 200.77,679.47 201.18,679.00 201.59,677.94 202.00,676.31 202.40,674.13 202.81,671.41 203.22,668.19 203.63,664.50 204.03,660.39 204.44,655.89 204.85,651.06 205.26,645.95 205.66,640.62 206.07,635.12 206.48,629.52 206.89,623.87 207.29,618.23 207.70,612.68 208.11,607.26 208.52,602.04 208.92,597.08 209.33,592.43 209.74,588.13 210.15,584.24 210.55,580.81 210.96,577.85 211.37,575.42 211.78,573.53 212.18,572.21 212.59,571.47 213.00,571.32 213.41,571.75 213.81,572.78 214.22,574.37 214.63,576.53 215.04,579.21 215.44,582.41 215.85,586.07 216.26,590.16 216.67,594.63 217.07,599.44 217.48,604.53 217.89,609.85 218.30,615.34 218.70,620.94 219.11,626.59 219.52,632.23 219.93,637.79 220.33,643.22 220.74,648.45 221.15,653.43 221.56,658.10 221.96,662.42 222.37,666.33 222.78,669.80 223.19,672.78 223.59,675.25 224.00,677.17 224.41,678.53 224.82,679.30 225.22,679.49 225.63,679.09 226.04,678.10 226.45,676.54 226.85,674.42 227.26,671.76 227.67,668.60 228.08,664.97 228.48,660.90 228.89,656.45 229.30,651.66 229.71,646.58 230.11,641.27 230.52,635.79 230.93,630.20 231.34,624.55 231.74,618.91 232.15,613.34 232.56,607.91 232.97,602.66 233.37,597.66 233.78,592.97 234.19,588.63 234.60,584.69 235.00,581.20 235.41,578.18 235.82,575.69 236.23,573.73 236.63,572.34 237.04,571.53 237.45,571.30 237.86,571.67 238.26,572.62 238.67,574.15 239.08,576.24 239.49,578.86 239.89,582.00 240.30,585.60 240.71,589.64 241.12,594.07 241.52,598.84 241.93,603.91 242.34,609.20 242.75,614.67 243.15,620.27 243.56,625.91 243.97,631.55 244.38,637.13 244.78,642.57 245.19,647.83 245.60,652.84 246.01,657.56 246.41,661.92 246.82,665.89 247.23,669.41 247.64,672.45 248.04,674.98 248.45,676.97 248.86,678.39 249.27,679.24 249.67,679.50 250.08,679.17 250.49,678.25 250.90,676.76 251.30,674.70 251.71,672.11 252.12,669.01 252.53,665.43 252.93,661.41 253.34,657.01 253.75,652.25 254.16,647.21 254.56,641.92 254.97,636.46 255.38,630.87 255.79,625.23 256.19,619.59 256.60,614.01 257.01,608.55 257.42,603.28 257.82,598.25 258.23,593.52 258.64,589.13 259.05,585.14 259.45,581.59 259.86,578.52 260.27,575.96 260.68,573.94 261.08,572.48 261.49,571.59 261.90,571.30" fill="none" stroke="#000" stroke-width="0.9" stroke-linejoin="round" stroke-linecap="butt" />
<polyline points="261.90,570.03 262.04,570.14 262.18,570.45 262.33,570.98 262.47,571.71 262.61,572.65 262.75,573.78 262.90,575.11 263.04,576.64 263.18,578.34 263.32,580.22 263.47,582.26 263.61,584.47 263.75,586.82 263.89,589.31 264.04,591.93 264.18,594.66 264.32,597.50 264.46,600.43 264.61,603.44 264.75,606.52 264.89,609.65 265.03,612.82 265.17,616.01 265.32,619.22 265.46,622.42 265.60,625.61 265.74,628.77 265.89,631.88 266.03,634.94 266.17,637.93 266.31,640.83 266.46,643.64 266.60,646.34 266.74,648.92 266.88,651.37 267.03,653.68 267.17,655.84 267.31,657.84 267.45,659.66 267.59,661.31 267.74,662.78 267.88,664.05 268.02,665.13 268.16,666.00 268.31,666.67 268.45,667.14 268.59,667.39 268.73,667.43 268.88,667.26 269.02,666.88 269.16,666.30 269.30,665.50 269.45,664.50 269.59,663.31 269.73,661.92 269.87,660.34 270.02,658.59 270.16,656.66 270.30,654.57" fill="none" stroke="#000" stroke-width="1.1" stroke-linejoin="round" stroke-linecap="butt" />
<polyline points="302.40,626.00 302.69,623.05 302.98,620.13 303.26,617.25 303.55,614.40 303.84,611.58 304.13,608.80 304.42,606.04 304.70,603.31 304.99,600.63 305.28,597.98 305.57,595.40 305.86,592.85 306.14,590.34 306.43,587.86 306.72,585.43 307.01,583.06 307.30,580.74 307.58,578.47 307.87,576.24 308.16,574.07 308.45,571.94 308.74,569.86 309.02,567.84 309.31,565.84 309.60,563.86 309.89,561.93 310.17,560.08 310.46,558.33 310.75,556.73 311.04,555.21 311.33,553.74 311.61,552.34 311.90,551.00 312.19,549.72 312.48,548.51 312.77,547.37 313.05,546.30 313.34,545.30 313.63,544.34 313.92,543.42 314.21,542.55 314.49,541.71 314.78,540.90 315.07,540.12 315.36,539.37 315.65,538.64 315.93,537.92 316.22,537.21 316.51,536.52 316.80,535.85 317.09,535.20 317.37,534.57 317.66,533.96 317.95,533.37 318.24,532.81 318.53,532.28 318.81,531.78 319.10,531.30 319.39,530.83 319.68,530.38 319.97,529.94 320.25,529.52 320.54,529.11 320.83,528.72 321.12,528.34 321.41,527.97 321.69,527.62 321.98,527.28 322.27,526.95 322.56,526.64 322.85,526.33 323.13,526.04 323.42,525.75 323.71,525.47 324.00,525.19 324.28,524.92 324.57,524.66 324.86,524.41 325.15,524.17 325.44,523.93 325.72,523.70 326.01,523.48 326.30,523.27 326.59,523.07 326.88,522.88 327.16,522.70 327.45,522.52 327.74,522.34 328.03,522.17 328.32,522.00 328.60,521.84 328.89,521.68 329.18,521.53 329.47,521.38 329.76,521.23 330.04,521.09 330.33,520.95 330.62,520.82 330.91,520.69 331.20,520.56 331.48,520.44 331.77,520.32 332.06,520.20 332.35,520.09 332.64,519.99 332.92,519.88 333.21,519.78 333.50,519.68 333.79,519.58 334.08,519.48 334.36,519.39 334.65,519.30 334.94,519.21 335.23,519.12 335.52,519.03 335.80,518.94 336.09,518.86 336.38,518.78 336.67,518.70 336.96,518.62 337.24,518.54 337.53,518.47 337.82,518.40 338.11,518.33 338.39,518.26 338.68,518.19 338.97,518.12 339.26,518.06 339.55,518.00 339.83,517.93 340.12,517.87 340.41,517.82 340.70,517.76 340.99,517.70 341.27,517.65 341.56,517.59 341.85,517.54 342.14,517.49 342.43,517.43 342.71,517.38 343.00,517.33 343.29,517.28 343.58,517.24 343.87,517.19 344.15,517.14 344.44,517.09 344.73,517.05 345.02,517.00 345.31,516.96 345.59,516.92 345.88,516.87 346.17,516.83 346.46,516.79 346.75,516.75 347.03,516.71 347.32,516.67 347.61,516.64 347.90,516.60 348.19,516.56 348.47,516.52 348.76,516.49 349.05,516.45 349.34,516.42 349.63,516.39 349.91,516.35 350.20,516.32 350.49,516.29 350.78,516.25 351.07,516.22 351.35,516.19 351.64,516.16 351.93,516.13 352.22,516.10 352.51,516.06 352.79,516.03 353.08,516.00 353.37,515.97 353.66,515.94 353.94,515.92 354.23,515.89 354.52,515.86 354.81,515.83 355.10,515.80 355.38,515.77 355.67,515.75 355.96,515.72 356.25,515.69 356.54,515.67 356.82,515.64 357.11,515.61 357.40,515.59 357.69,515.56 357.98,515.54 358.26,515.51 358.55,515.49 358.84,515.46 359.13,515.44 359.42,515.41 359.70,515.39 359.99,515.37 360.28,515.34 360.57,515.32 360.86,515.30 361.14,515.28 361.43,515.25 361.72,515.23 362.01,515.21 362.30,515.19 362.58,515.17 362.87,515.15 363.16,515.13 363.45,515.11 363.74,515.09 364.02,515.07 364.31,515.05 364.60,515.03 364.89,515.01 365.18,514.99 365.46,514.97 365.75,514.95 366.04,514.93 366.33,514.91 366.62,514.89 366.90,514.87 367.19,514.86 367.48,514.84 367.77,514.82 368.05,514.80 368.34,514.78 368.63,514.76 368.92,514.75 369.21,514.73 369.49,514.71 369.78,514.69 370.07,514.67 370.36,514.65 370.65,514.64 370.93,514.62 371.22,514.60 371.51,514.58 371.80,514.57 372.09,514.55 372.37,514.53 372.66,514.52 372.95,514.50 373.24,514.48 373.53,514.46 373.81,514.45 374.10,514.43 374.39,514.41 374.68,514.40 374.97,514.38 375.25,514.37 375.54,514.35 375.83,514.33 376.12,514.32 376.41,514.30 376.69,514.29 376.98,514.27 377.27,514.26 377.56,514.24 377.85,514.23 378.13,514.21 378.42,514.20 378.71,514.18 379.00,514.17 379.29,514.16 379.57,514.14 379.86,514.13 380.15,514.11 380.44,514.10 380.73,514.09 381.01,514.07 381.30,514.06 381.59,514.05 381.88,514.04 382.16,514.02 382.45,514.01 382.74,514.00 383.03,513.99 383.32,513.98 383.60,513.96 383.89,513.95 384.18,513.94 384.47,513.93 384.76,513.92 385.04,513.91 385.33,513.90 385.62,513.89 385.91,513.88 386.20,513.87 386.48,513.86 386.77,513.85 387.06,513.84 387.35,513.83 387.64,513.82 387.92,513.82 388.21,513.81 388.50,513.80" fill="none" stroke="#000" stroke-width="1.1" stroke-linejoin="round" stroke-linecap="butt" />
<polyline points="50.40,554.73 50.74,554.70 51.08,554.69 51.41,554.71 51.75,554.75 52.09,554.81 52.43,554.87 52.77,554.95 53.11,555.02 53.44,555.08 53.78,555.14 54.12,555.18 54.46,555.20 54.80,555.20 55.14,555.20 55.47,555.18 55.81,555.16 56.15,555.14 56.49,555.12 56.83,555.12 57.17,555.14 57.50,555.17 57.84,555.22 58.18,555.29 58.52,555.37 58.86,555.46 59.20,555.56 59.53,555.64 59.87,555.72 60.21,555.77 60.55,555.81 60.89,555.84 61.23,555.84 61.56,555.82 61.90,555.78 62.24,555.73 62.58,555.66 62.92,555.58 63.25,555.50 63.59,555.41 63.93,555.33 64.27,555.27 64.61,555.21 64.95,555.18 65.28,555.17 65.62,555.17 65.96,555.18 66.30,555.21 66.64,555.23 66.98,555.25 67.31,555.26 67.65,555.26 67.99,555.24 68.33,555.20 68.67,555.14 69.01,555.06 69.34,554.98 69.68,554.89 70.02,554.81 70.36,554.73 70.70,554.67 71.04,554.63 71.37,554.62 71.71,554.64 72.05,554.68 72.39,554.75 72.73,554.84 73.07,554.95 73.40,555.06 73.74,555.17 74.08,555.28 74.42,555.37 74.76,555.44 75.09,555.48 75.43,555.50 75.77,555.50 76.11,555.47 76.45,555.43 76.79,555.37 77.12,555.31 77.46,555.26 77.80,555.21 78.14,555.18 78.48,555.17 78.82,555.17 79.15,555.20 79.49,555.24 79.83,555.30 80.17,555.36 80.51,555.42 80.85,555.47 81.18,555.51 81.52,555.53 81.86,555.53 82.20,555.50 82.54,555.44 82.88,555.35 83.21,555.24 83.55,555.11 83.89,554.97 84.23,554.83 84.57,554.70 84.91,554.59 85.24,554.51 85.58,554.48 85.92,554.50 86.26,554.55 86.60,554.65 86.94,554.77 87.27,554.91 87.61,555.05 87.95,555.18 88.29,555.29 88.63,555.37 88.96,555.43 89.30,555.46 89.64,555.45 89.98,555.43 90.32,555.39 90.66,555.33 90.99,555.27 91.33,555.21 91.67,555.17 92.01,555.14 92.35,555.12 92.69,555.13 93.02,555.17 93.36,555.22 93.70,555.28 94.04,555.35 94.38,555.42 94.72,555.48 95.05,555.53 95.39,555.55 95.73,555.55 96.07,555.52 96.41,555.45 96.75,555.36 97.08,555.24 97.42,555.10 97.76,554.96 98.10,554.81 98.44,554.67 98.78,554.55 99.11,554.45 99.45,554.38 99.79,554.34 100.13,554.33 100.47,554.35 100.80,554.39 101.14,554.44 101.48,554.51 101.82,554.58 102.16,554.64 102.50,554.68 102.83,554.71 103.17,554.72 103.51,554.71 103.85,554.69 104.19,554.65 104.53,554.60 104.86,554.56 105.20,554.53 105.54,554.51 105.88,554.51 106.22,554.54 106.56,554.60 106.89,554.69 107.23,554.79 107.57,554.91 107.91,555.03 108.25,555.14 108.59,555.24 108.92,555.31 109.26,555.37 109.60,555.41 109.94,555.43 110.28,555.46 110.62,555.47 110.95,555.48 111.29,555.49 111.63,555.48 111.97,555.46 112.31,555.43 112.64,555.40 112.98,555.36 113.32,555.33 113.66,555.31 114.00,555.30 114.34,555.30 114.67,555.32 115.01,555.34 115.35,555.36 115.69,555.37 116.03,555.36 116.37,555.33 116.70,555.28 117.04,555.19 117.38,555.07 117.72,554.93 118.06,554.77 118.40,554.59 118.73,554.41 119.07,554.23 119.41,554.07 119.75,553.93 120.09,553.82 120.43,553.75 120.76,553.72 121.10,553.72 121.44,553.76 121.78,553.82 122.12,553.90 122.46,553.99 122.79,554.09 123.13,554.17 123.47,554.24 123.81,554.29 124.15,554.31 124.48,554.31 124.82,554.29 125.16,554.25 125.50,554.20 125.84,554.15 126.18,554.11 126.51,554.08 126.85,554.08 127.19,554.10 127.53,554.16 127.87,554.24 128.21,554.36 128.54,554.49 128.88,554.64 129.22,554.80 129.56,554.95 129.90,555.08 130.24,555.20 130.57,555.28 130.91,555.32 131.25,555.32 131.59,555.27 131.93,555.17 132.27,555.04 132.60,554.86 132.94,554.65 133.28,554.43 133.62,554.22 133.96,554.04 134.30,553.92 134.63,553.88 134.97,553.92 135.31,554.04 135.65,554.23 135.99,554.45 136.33,554.67 136.66,554.89 137.00,555.06 137.34,555.19 137.68,555.26 138.02,555.27 138.35,555.24 138.69,555.17 139.03,555.06 139.37,554.93 139.71,554.79 140.05,554.64 140.38,554.51 140.72,554.39 141.06,554.30 141.40,554.23 141.74,554.20 142.08,554.19 142.41,554.21 142.75,554.24 143.09,554.28 143.43,554.32 143.77,554.35 144.11,554.35 144.44,554.33 144.78,554.27 145.12,554.18 145.46,554.05 145.80,553.89 146.14,553.70 146.47,553.51 146.81,553.31 147.15,553.11 147.49,552.94 147.83,552.79 148.17,552.68 148.50,552.61 148.84,552.58 149.18,552.59 149.52,552.63 149.86,552.70 150.19,552.79 150.53,552.88 150.87,552.98 151.21,553.06 151.55,553.12 151.89,553.16 152.22,553.18 152.56,553.18 152.90,553.16 153.24,553.13 153.58,553.10 153.92,553.08 154.25,553.08 154.59,553.11 154.93,553.18 155.27,553.27 155.61,553.40 155.95,553.55 156.28,553.71 156.62,553.87 156.96,553.99 157.30,554.07 157.64,554.11 157.98,554.10 158.31,554.07 158.65,554.05 158.99,554.05 159.33,554.09 159.67,554.20 160.01,554.34 160.34,554.51 160.68,554.69 161.02,554.84 161.36,554.95 161.70,555.03 162.03,555.08 162.37,555.10 162.71,555.11 163.05,555.12 163.39,555.12 163.73,555.12 164.06,555.10 164.40,555.07 164.74,555.00 165.08,554.90 165.42,554.75 165.76,554.56 166.09,554.32 166.43,554.03 166.77,553.70 167.11,553.34 167.45,552.96 167.79,552.58 168.12,552.21 168.46,551.85 168.80,551.54 169.14,551.26 169.48,551.03 169.82,550.85 170.15,550.71 170.49,550.62 170.83,550.57 171.17,550.54 171.51,550.53 171.85,550.52 172.18,550.51 172.52,550.48 172.86,550.44 173.20,550.39 173.54,550.32 173.87,550.24 174.21,550.17 174.55,550.10 174.89,550.06 175.23,550.05 175.57,550.08 175.90,550.17 176.24,550.31 176.58,550.50 176.92,550.75 177.26,551.05 177.60,551.38 177.93,551.73 178.27,552.10 178.61,552.46 178.95,552.81 179.29,553.12 179.63,553.39 179.96,553.59 180.30,553.73 180.64,553.79 180.98,553.75 181.32,553.61 181.66,553.37 181.99,553.04 182.33,552.66 182.67,552.29 183.01,551.98 183.35,551.80 183.69,551.80 184.02,551.99 184.36,552.37 184.70,552.87 185.04,553.43 185.38,553.98 185.72,554.45 186.05,554.80 186.39,555.02 186.73,555.09 187.07,555.04 187.41,554.88 187.74,554.63 188.08,554.32 188.42,553.95 188.76,553.56 189.10,553.16 189.44,552.77 189.77,552.38 190.11,552.03 190.45,551.70 190.79,551.40 191.13,551.13 191.47,550.89 191.80,550.66 192.14,550.43 192.48,550.20 192.82,549.95 193.16,549.67 193.50,549.36 193.83,549.02 194.17,548.64 194.51,548.23 194.85,547.81 195.19,547.38 195.53,546.95 195.86,546.55 196.20,546.18 196.54,545.86 196.88,545.61 197.22,545.43 197.56,545.32 197.89,545.28 198.23,545.32 198.57,545.41 198.91,545.56 199.25,545.74 199.58,545.95 199.92,546.17 200.26,546.38 200.60,546.60 200.94,546.80 201.28,546.99 201.61,547.17 201.95,547.35 202.29,547.54 202.63,547.75 202.97,547.98 203.31,548.26 203.64,548.57 203.98,548.94 204.32,549.33 204.66,549.75 205.00,550.15 205.34,550.50 205.67,550.75 206.01,550.87 206.35,550.83 206.69,550.65 207.03,550.36 207.37,550.05 207.70,549.82 208.04,549.76 208.38,549.94 208.72,550.35 209.06,550.97 209.40,551.69 209.73,552.43 210.07,553.08 210.41,553.61 210.75,553.97 211.09,554.17 211.42,554.25 211.76,554.21 212.10,554.10 212.44,553.92 212.78,553.68 213.12,553.38 213.45,553.01 213.79,552.57 214.13,552.04 214.47,551.43 214.81,550.73 215.15,549.95 215.48,549.09 215.82,548.16 216.16,547.19 216.50,546.19 216.84,545.19 217.18,544.20 217.51,543.24 217.85,542.33 218.19,541.49 218.53,540.71 218.87,540.02 219.21,539.39 219.54,538.84 219.88,538.35 220.22,537.91 220.56,537.52 220.90,537.16 221.24,536.83 221.57,536.52 221.91,536.23 222.25,535.97 222.59,535.75 222.93,535.57 223.26,535.45 223.60,535.40 223.94,535.45 224.28,535.59 224.62,535.85 224.96,536.23 225.29,536.73 225.63,537.35 225.97,538.08 226.31,538.90 226.65,539.81 226.99,540.78 227.32,541.78 227.66,542.80 228.00,543.81 228.34,544.77 228.68,545.68 229.02,546.48 229.35,547.14 229.69,547.61 230.03,547.85 230.37,547.80 230.71,547.45 231.05,546.84 231.38,546.05 231.72,545.24 232.06,544.61 232.40,544.33 232.74,544.57 233.08,545.34 233.41,546.59 233.75,548.17 234.09,549.85 234.43,551.42 234.77,552.72 235.11,553.64 235.44,554.15 235.78,554.25 236.12,554.01 236.46,553.47 236.80,552.71 237.13,551.76 237.47,550.68 237.81,549.49 238.15,548.24 238.49,546.93 238.83,545.60 239.16,544.25 239.50,542.90 239.84,541.55 240.18,540.20 240.52,538.85 240.86,537.50 241.19,536.14 241.53,534.75 241.87,533.35 242.21,531.92 242.55,530.46 242.89,529.00 243.22,527.52 243.56,526.06 243.90,524.63 244.24,523.26 244.58,521.98 244.92,520.80 245.25,519.75 245.59,518.85 245.93,518.13 246.27,517.58 246.61,517.22 246.95,517.05 247.28,517.05 247.62,517.22 247.96,517.55 248.30,518.01 248.64,518.59 248.97,519.27 249.31,520.03 249.65,520.88 249.99,521.79 250.33,522.77 250.67,523.81 251.00,524.93 251.34,526.13 251.68,527.42 252.02,528.79 252.36,530.25 252.70,531.79 253.03,533.39 253.37,535.00 253.71,536.54 254.05,537.93 254.39,539.03 254.73,539.74 255.06,539.94 255.40,539.60 255.74,538.81 256.08,537.75 256.42,536.72 256.76,536.06 257.09,536.07 257.43,536.91 257.77,538.56 258.11,540.85 258.45,543.46 258.79,546.04 259.12,548.29 259.46,550.01 259.80,551.11 260.23,550.99 260.66,550.64 261.10,550.10 261.53,549.38 261.96,548.53 262.39,547.38 262.82,544.79 263.26,541.00 263.69,536.50 264.12,531.83 264.55,527.49 264.99,523.17 265.42,518.57 265.85,513.87 266.28,509.22 266.71,504.76 267.15,500.63 267.58,496.47 268.01,492.42 268.44,488.74 268.87,485.71 269.31,483.36 269.74,481.22 270.17,479.62 270.60,478.91 271.03,478.58 271.47,478.41 271.90,478.61 272.33,479.52 272.76,480.90 273.20,482.48 273.63,484.51 274.06,487.27 274.49,490.52 274.92,493.99 275.36,497.44 275.79,501.11 276.22,505.07 276.65,509.11 277.08,513.01 277.52,516.74 277.95,520.58 278.38,524.28 278.81,527.59 279.24,530.24 279.68,532.65 280.11,534.98 280.54,536.92 280.97,538.18 281.41,538.47 281.84,537.90 282.27,536.75 282.70,535.24 283.13,533.61 283.57,531.85 284.00,529.42 284.43,526.72 284.86,524.25 285.29,522.52 285.73,521.34 286.16,520.30 286.59,519.56 287.02,519.30 287.45,519.67 287.89,520.52 288.32,521.60 288.75,522.72 289.18,524.39 289.62,526.41 290.05,528.32 290.48,529.65 290.91,529.97 291.34,529.37 291.78,528.25 292.21,526.96 292.64,525.82 293.07,525.01 293.50,524.19 293.94,523.45 294.37,522.91 294.80,522.70 295.23,523.08 295.66,524.06 296.10,525.41 296.53,526.92 296.96,528.50 297.39,530.56 297.83,532.91 298.26,535.28 298.69,537.42 299.12,539.49 299.55,541.54 299.99,543.43 300.42,545.04 300.85,546.35 301.28,547.54 301.71,548.61 302.15,549.58 302.58,550.45 303.01,551.22 303.44,551.92 303.87,552.57 304.31,553.17 304.74,553.71 305.17,554.19 305.60,554.60 306.04,554.97 306.47,555.30 306.90,555.61 307.33,555.87 307.76,556.10 308.20,556.28 308.63,556.45 309.06,556.61 309.49,556.75 309.92,556.87 310.36,556.95 310.79,557.01 311.22,557.05 311.65,557.09 312.08,557.13 312.52,557.16 312.95,557.19 313.38,557.22 313.81,557.24 314.25,557.26 314.68,557.28 315.11,557.29 315.54,557.30 315.97,557.30 316.41,557.30 316.84,557.30 317.27,557.30 317.70,557.31 318.13,557.31 318.57,557.31 319.00,557.31 319.43,557.31 319.86,557.31 320.29,557.32 320.73,557.32 321.16,557.32 321.59,557.32 322.02,557.32 322.46,557.32 322.89,557.32 323.32,557.32 323.75,557.33 324.18,557.33 324.62,557.33 325.05,557.33 325.48,557.33 325.91,557.33 326.34,557.33 326.78,557.33 327.21,557.34 327.64,557.34 328.07,557.34 328.51,557.34 328.94,557.34 329.37,557.34 329.80,557.34 330.23,557.34 330.67,557.35 331.10,557.35 331.53,557.35 331.96,557.35 332.39,557.35 332.83,557.35 333.26,557.35 333.69,557.35 334.12,557.35 334.55,557.35 334.99,557.36 335.42,557.36 335.85,557.36 336.28,557.36 336.72,557.36 337.15,557.36 337.58,557.36 338.01,557.36 338.44,557.36 338.88,557.36 339.31,557.36 339.74,557.36 340.17,557.37 340.60,557.37 341.04,557.37 341.47,557.37 341.90,557.37 342.33,557.37 342.76,557.37 343.20,557.37 343.63,557.37 344.06,557.37 344.49,557.37 344.93,557.37 345.36,557.37 345.79,557.37 346.22,557.38 346.65,557.38 347.09,557.38 347.52,557.38 347.95,557.38 348.38,557.38 348.81,557.38 349.25,557.38 349.68,557.38 350.11,557.38 350.54,557.38 350.97,557.38 351.41,557.38 351.84,557.38 352.27,557.38 352.70,557.38 353.14,557.38 353.57,557.38 354.00,557.39 354.43,557.39 354.86,557.39 355.30,557.39 355.73,557.39 356.16,557.39 356.59,557.39 357.02,557.39 357.46,557.39 357.89,557.39 358.32,557.39 358.75,557.39 359.18,557.39 359.62,557.39 360.05,557.39 360.48,557.39 360.91,557.39 361.35,557.39 361.78,557.39 362.21,557.39 362.64,557.39 363.07,557.39 363.51,557.39 363.94,557.39 364.37,557.39 364.80,557.39 365.23,557.39 365.67,557.39 366.10,557.39 366.53,557.40 366.96,557.40 367.39,557.40 367.83,557.40 368.26,557.40 368.69,557.40 369.12,557.40 369.56,557.40 369.99,557.40 370.42,557.40 370.85,557.40 371.28,557.40 371.72,557.40 372.15,557.40 372.58,557.40 373.01,557.40 373.44,557.40 373.88,557.40 374.31,557.40 374.74,557.40 375.17,557.40 375.60,557.40 376.04,557.40 376.47,557.40 376.90,557.40 377.33,557.40 377.77,557.40 378.20,557.40 378.63,557.40 379.06,557.40 379.49,557.40 379.93,557.40 380.36,557.40 380.79,557.40 381.22,557.40 381.65,557.40 382.09,557.40 382.52,557.40 382.95,557.40 383.38,557.40 383.81,557.40 384.25,557.40 384.68,557.40 385.11,557.40 385.54,557.40 385.98,557.40 386.41,557.40 386.84,557.40 387.27,557.40 387.70,557.40 388.14,557.40 388.57,557.40 389.00,557.40" fill="none" stroke="#00ffff" stroke-width="1.1" stroke-linejoin="round" stroke-linecap="butt" />
<line x1="52.40" y1="557.50" x2="387.60" y2="557.50" stroke="#f00" stroke-width="0.8" stroke-dasharray="3.0,2.4"/>
<polyline points="50.40,557.27 50.80,557.27 51.20,557.27 51.60,557.27 52.00,557.27 52.40,557.28 52.80,557.28 53.20,557.28 53.60,557.29 54.00,557.29 54.40,557.30 54.80,557.30 55.20,557.31 55.61,557.32 56.01,557.32 56.41,557.33 56.81,557.34 57.21,557.34 57.61,557.35 58.01,557.36 58.41,557.36 58.81,557.37 59.21,557.38 59.61,557.38 60.01,557.39 60.41,557.39 60.81,557.39 61.21,557.40 61.61,557.40 62.01,557.40 62.41,557.40 62.81,557.40 63.21,557.40 63.61,557.39 64.01,557.39 64.41,557.38 64.81,557.38 65.21,557.37 65.61,557.36 66.02,557.35 66.42,557.34 66.82,557.33 67.22,557.32 67.62,557.31 68.02,557.30 68.42,557.29 68.82,557.27 69.22,557.26 69.62,557.25 70.02,557.24 70.42,557.22 70.82,557.21 71.22,557.20 71.62,557.19 72.02,557.18 72.42,557.17 72.82,557.16 73.22,557.15 73.62,557.14 74.02,557.14 74.42,557.13 74.82,557.13 75.22,557.13 75.62,557.13 76.02,557.13 76.43,557.14 76.83,557.14 77.23,557.15 77.63,557.15 78.03,557.16 78.43,557.17 78.83,557.18 79.23,557.19 79.63,557.21 80.03,557.22 80.43,557.24 80.83,557.25 81.23,557.26 81.63,557.28 82.03,557.29 82.43,557.31 82.83,557.32 83.23,557.34 83.63,557.35 84.03,557.36 84.43,557.37 84.83,557.38 85.23,557.39 85.63,557.39 86.03,557.40 86.43,557.40 86.84,557.40 87.24,557.40 87.64,557.39 88.04,557.39 88.44,557.38 88.84,557.37 89.24,557.36 89.64,557.34 90.04,557.33 90.44,557.31 90.84,557.29 91.24,557.27 91.64,557.24 92.04,557.22 92.44,557.19 92.84,557.17 93.24,557.14 93.64,557.11 94.04,557.09 94.44,557.06 94.84,557.03 95.24,557.01 95.64,556.98 96.04,556.96 96.44,556.93 96.84,556.91 97.25,556.90 97.65,556.88 98.05,556.86 98.45,556.85 98.85,556.84 99.25,556.84 99.65,556.84 100.05,556.84 100.45,556.84 100.85,556.84 101.25,556.85 101.65,556.86 102.05,556.88 102.45,556.90 102.85,556.92 103.25,556.94 103.65,556.96 104.05,556.99 104.45,557.02 104.85,557.05 105.25,557.08 105.65,557.11 106.05,557.14 106.45,557.17 106.85,557.20 107.25,557.23 107.66,557.26 108.06,557.29 108.46,557.31 108.86,557.33 109.26,557.35 109.66,557.37 110.06,557.38 110.46,557.39 110.86,557.40 111.26,557.40 111.66,557.40 112.06,557.39 112.46,557.38 112.86,557.36 113.26,557.34 113.66,557.32 114.06,557.29 114.46,557.25 114.86,557.22 115.26,557.17 115.66,557.13 116.06,557.08 116.46,557.03 116.86,556.98 117.26,556.92 117.66,556.87 118.07,556.81 118.47,556.75 118.87,556.69 119.27,556.64 119.67,556.58 120.07,556.53 120.47,556.48 120.87,556.43 121.27,556.39 121.67,556.35 122.07,556.31 122.47,556.28 122.87,556.26 123.27,556.24 123.67,556.22 124.07,556.21 124.47,556.21 124.87,556.22 125.27,556.23 125.67,556.25 126.07,556.27 126.47,556.30 126.87,556.34 127.27,556.38 127.67,556.42 128.07,556.47 128.48,556.53 128.88,556.59 129.28,556.65 129.68,556.71 130.08,556.78 130.48,556.84 130.88,556.91 131.28,556.97 131.68,557.03 132.08,557.10 132.48,557.15 132.88,557.21 133.28,557.25 133.68,557.30 134.08,557.33 134.48,557.36 134.88,557.38 135.28,557.40 135.68,557.40 136.08,557.40 136.48,557.38 136.88,557.36 137.28,557.33 137.68,557.29 138.08,557.23 138.48,557.17 138.89,557.11 139.29,557.03 139.69,556.94 140.09,556.85 140.49,556.75 140.89,556.64 141.29,556.53 141.69,556.42 142.09,556.30 142.49,556.18 142.89,556.06 143.29,555.94 143.69,555.82 144.09,555.71 144.49,555.59 144.89,555.49 145.29,555.39 145.69,555.29 146.09,555.21 146.49,555.13 146.89,555.06 147.29,555.01 147.69,554.96 148.09,554.93 148.49,554.91 148.89,554.91 149.30,554.92 149.70,554.94 150.10,554.97 150.50,555.02 150.90,555.08 151.30,555.15 151.70,555.24 152.10,555.33 152.50,555.43 152.90,555.55 153.30,555.67 153.70,555.80 154.10,555.93 154.50,556.06 154.90,556.20 155.30,556.34 155.70,556.48 156.10,556.61 156.50,556.74 156.90,556.86 157.30,556.97 157.70,557.07 158.10,557.16 158.50,557.24 158.90,557.31 159.30,557.35 159.71,557.39 160.11,557.40 160.51,557.39 160.91,557.37 161.31,557.33 161.71,557.26 162.11,557.18 162.51,557.08 162.91,556.95 163.31,556.81 163.71,556.65 164.11,556.47 164.51,556.28 164.91,556.08 165.31,555.86 165.71,555.63 166.11,555.39 166.51,555.14 166.91,554.89 167.31,554.64 167.71,554.39 168.11,554.13 168.51,553.89 168.91,553.65 169.31,553.42 169.71,553.21 170.12,553.01 170.52,552.83 170.92,552.66 171.32,552.52 171.72,552.40 172.12,552.30 172.52,552.23 172.92,552.18 173.32,552.17 173.72,552.18 174.12,552.22 174.52,552.28 174.92,552.38 175.32,552.50 175.72,552.65 176.12,552.82 176.52,553.01 176.92,553.23 177.32,553.46 177.72,553.72 178.12,553.98 178.52,554.26 178.92,554.54 179.32,554.83 179.72,555.12 180.12,555.40 180.53,555.68 180.93,555.96 181.33,556.21 181.73,556.45 182.13,556.67 182.53,556.87 182.93,557.04 183.33,557.18 183.73,557.29 184.13,557.36 184.53,557.40 184.93,557.39 185.33,557.35 185.73,557.27 186.13,557.14 186.53,556.97 186.93,556.76 187.33,556.51 187.73,556.22 188.13,555.89 188.53,555.53 188.93,555.13 189.33,554.70 189.73,554.25 190.13,553.77 190.53,553.27 190.94,552.76 191.34,552.23 191.74,551.70 192.14,551.17 192.54,550.64 192.94,550.13 193.34,549.62 193.74,549.14 194.14,548.68 194.54,548.26 194.94,547.86 195.34,547.51 195.74,547.20 196.14,546.94 196.54,546.72 196.94,546.56 197.34,546.46 197.74,546.41 198.14,546.42 198.54,546.49 198.94,546.62 199.34,546.81 199.74,547.05 200.14,547.35 200.54,547.71 200.94,548.11 201.35,548.55 201.75,549.04 202.15,549.56 202.55,550.11 202.95,550.69 203.35,551.28 203.75,551.88 204.15,552.49 204.55,553.10 204.95,553.69 205.35,554.26 205.75,554.81 206.15,555.32 206.55,555.79 206.95,556.21 207.35,556.58 207.75,556.89 208.15,557.13 208.55,557.29 208.95,557.38 209.35,557.39 209.75,557.32 210.15,557.16 210.55,556.91 210.95,556.58 211.35,556.15 211.76,555.64 212.16,555.05 212.56,554.37 212.96,553.62 213.36,552.80 213.76,551.91 214.16,550.97 214.56,549.97 214.96,548.93 215.36,547.85 215.76,546.76 216.16,545.64 216.56,544.53 216.96,543.42 217.36,542.33 217.76,541.27 218.16,540.25 218.56,539.28 218.96,538.37 219.36,537.53 219.76,536.77 220.16,536.10 220.56,535.53 220.96,535.06 221.36,534.70 221.76,534.46 222.17,534.33 222.57,534.33 222.97,534.46 223.37,534.71 223.77,535.08 224.17,535.57 224.57,536.17 224.97,536.89 225.37,537.71 225.77,538.63 226.17,539.64 226.57,540.72 226.97,541.87 227.37,543.07 227.77,544.31 228.17,545.57 228.57,546.85 228.97,548.12 229.37,549.37 229.77,550.58 230.17,551.74 230.57,552.83 230.97,553.84 231.37,554.75 231.77,555.54 232.17,556.21 232.58,556.74 232.98,557.12 233.38,557.34 233.78,557.40 234.18,557.28 234.58,556.97 234.98,556.49 235.38,555.82 235.78,554.96 236.18,553.93 236.58,552.71 236.98,551.33 237.38,549.78 237.78,548.08 238.18,546.24 238.58,544.28 238.98,542.20 239.38,540.03 239.78,537.79 240.18,535.49 240.58,533.16 240.98,530.82 241.38,528.49 241.78,526.19 242.18,523.94 242.58,521.78 242.99,519.72 243.39,517.78 243.79,515.99 244.19,514.36 244.59,512.92 244.99,511.68 245.39,510.65 245.79,509.85 246.19,509.30 246.59,508.99 246.99,508.94 247.39,509.15 247.79,509.62 248.19,510.35 248.59,511.33 248.99,512.56 249.39,514.03 249.79,515.71 250.19,517.61 250.59,519.68 250.99,521.93 251.39,524.32 251.79,526.82 252.19,529.41 252.59,532.06 252.99,534.73 253.40,537.40 253.80,540.04 254.20,542.60 254.60,545.06 255.00,547.38 255.40,549.53 255.80,551.48 256.20,553.20 256.60,554.66 257.00,555.83 257.40,556.69 257.80,557.22 258.20,557.40 258.64,556.98 259.07,556.18 259.51,555.08 259.95,553.79 260.39,552.34 260.82,550.37 261.26,547.89 261.70,545.03 262.14,541.93 262.57,538.66 263.01,534.86 263.45,530.58 263.89,525.98 264.32,521.24 264.76,516.51 265.20,511.88 265.64,506.97 266.07,501.97 266.51,497.19 266.95,492.95 267.39,489.15 267.82,485.60 268.26,482.68 268.70,480.66 269.14,478.95 269.57,477.96 270.01,478.10 270.45,478.94 270.89,480.16 271.32,481.83 271.76,484.53 272.20,487.93 272.64,491.62 273.07,495.43 273.51,499.83 273.95,504.61 274.39,509.51 274.82,514.25 275.26,519.01 275.70,523.91 276.14,528.72 276.57,533.20 277.01,537.09 277.45,540.61 277.89,543.98 278.32,547.04 278.76,549.60 279.20,551.49 279.64,552.98 280.07,554.36 280.51,555.48 280.95,556.20 281.39,556.38 281.82,555.82 282.26,554.65 282.70,553.12 283.14,551.44 283.57,548.97 284.01,545.82 284.45,542.44 284.88,539.25 285.32,536.35 285.76,533.32 286.20,530.66 286.63,528.90 287.07,527.72 287.51,526.89 287.95,526.75 288.38,527.39 288.82,528.50 289.26,529.95 289.70,532.34 290.13,535.29 290.57,538.31 291.01,541.51 291.45,545.10 291.88,548.49 292.32,551.10 292.76,553.27 293.20,555.18 293.63,556.29 294.07,556.21 294.51,555.24 294.95,553.70 295.38,551.90 295.82,549.98 296.26,547.37 296.70,544.26 297.13,541.00 297.57,537.92 298.01,535.27 298.45,532.70 298.88,530.20 299.32,527.90 299.76,525.92 300.20,524.32 300.63,522.88 301.07,521.62 301.51,520.65 301.95,520.02 302.38,519.53 302.82,519.16 303.26,519.00 303.70,519.10 304.13,519.40 304.57,519.83 305.01,520.31 305.45,520.92 305.88,521.76 306.32,522.75 306.76,523.81 307.20,524.88 307.63,525.90 308.07,526.93 308.51,527.99 308.95,529.07 309.38,530.18 309.82,531.28 310.26,532.39 310.69,533.49 311.13,534.59 311.57,535.72 312.01,536.86 312.44,538.00 312.88,539.11 313.32,540.20 313.76,541.24 314.19,542.24 314.63,543.22 315.07,544.20 315.51,545.15 315.94,546.07 316.38,546.94 316.82,547.75 317.26,548.48 317.69,549.14 318.13,549.76 318.57,550.35 319.01,550.90 319.44,551.42 319.88,551.90 320.32,552.35 320.76,552.76 321.19,553.14 321.63,553.51 322.07,553.86 322.51,554.19 322.94,554.49 323.38,554.76 323.82,555.01 324.26,555.23 324.69,555.42 325.13,555.62 325.57,555.80 326.01,555.97 326.44,556.13 326.88,556.28 327.32,556.42 327.76,556.54 328.19,556.65 328.63,556.74 329.07,556.81 329.51,556.87 329.94,556.94 330.38,556.99 330.82,557.05 331.26,557.10 331.69,557.15 332.13,557.19 332.57,557.23 333.01,557.26 333.44,557.28 333.88,557.29 334.32,557.30 334.76,557.30 335.19,557.30 335.63,557.31 336.07,557.31 336.51,557.31 336.94,557.31 337.38,557.31 337.82,557.32 338.25,557.32 338.69,557.32 339.13,557.32 339.57,557.32 340.00,557.33 340.44,557.33 340.88,557.33 341.32,557.33 341.75,557.33 342.19,557.33 342.63,557.34 343.07,557.34 343.50,557.34 343.94,557.34 344.38,557.34 344.82,557.34 345.25,557.34 345.69,557.35 346.13,557.35 346.57,557.35 347.00,557.35 347.44,557.35 347.88,557.35 348.32,557.35 348.75,557.36 349.19,557.36 349.63,557.36 350.07,557.36 350.50,557.36 350.94,557.36 351.38,557.36 351.82,557.36 352.25,557.36 352.69,557.37 353.13,557.37 353.57,557.37 354.00,557.37 354.44,557.37 354.88,557.37 355.32,557.37 355.75,557.37 356.19,557.37 356.63,557.37 357.07,557.38 357.50,557.38 357.94,557.38 358.38,557.38 358.82,557.38 359.25,557.38 359.69,557.38 360.13,557.38 360.57,557.38 361.00,557.38 361.44,557.38 361.88,557.38 362.32,557.38 362.75,557.38 363.19,557.39 363.63,557.39 364.06,557.39 364.50,557.39 364.94,557.39 365.38,557.39 365.81,557.39 366.25,557.39 366.69,557.39 367.13,557.39 367.56,557.39 368.00,557.39 368.44,557.39 368.88,557.39 369.31,557.39 369.75,557.39 370.19,557.39 370.63,557.39 371.06,557.39 371.50,557.39 371.94,557.39 372.38,557.40 372.81,557.40 373.25,557.40 373.69,557.40 374.13,557.40 374.56,557.40 375.00,557.40 375.44,557.40 375.88,557.40 376.31,557.40 376.75,557.40 377.19,557.40 377.63,557.40 378.06,557.40 378.50,557.40 378.94,557.40 379.38,557.40 379.81,557.40 380.25,557.40 380.69,557.40 381.13,557.40 381.56,557.40 382.00,557.40 382.44,557.40 382.88,557.40 383.31,557.40 383.75,557.40 384.19,557.40 384.63,557.40 385.06,557.40 385.50,557.40 385.94,557.40 386.38,557.40 386.81,557.40 387.25,557.40 387.69,557.40 388.13,557.40 388.56,557.40 389.00,557.40" fill="none" stroke="#ff0000" stroke-width="1.7" stroke-linejoin="round" stroke-linecap="butt" />
<line x1="291.60" y1="472.60" x2="291.60" y2="612.00" stroke="#ee1010" stroke-width="1.2" />
</g>
<text transform="translate(68.60,494.50) scale(0.86,1)" font-size="15.6" fill="#000" text-anchor="start" >d)</text>
<text transform="translate(297.30,497.40) scale(0.872,1)" font-size="15.1" fill="#e00" style="word-spacing:0.8px">d<tspan font-size="11" dy="3.6">g</tspan><tspan dy="-3.6"> = 2.86 Å</tspan></text>
<text transform="translate(357.20,551.00) scale(0.872,1)" font-size="15.1" fill="#00eaff" text-anchor="start" >DFT</text>
<text transform="translate(370.30,576.30) scale(0.872,1)" font-size="15.1" fill="#e00" text-anchor="start" >IS</text>
<line x1="52.30" y1="28.90" x2="52.30" y2="38.90" stroke="#000" stroke-width="0.9" />
<line x1="52.30" y1="168.30" x2="52.30" y2="158.30" stroke="#000" stroke-width="0.9" />
<line x1="73.26" y1="28.90" x2="73.26" y2="33.90" stroke="#000" stroke-width="0.9" />
<line x1="73.26" y1="168.30" x2="73.26" y2="163.30" stroke="#000" stroke-width="0.9" />
<line x1="94.22" y1="28.90" x2="94.22" y2="33.90" stroke="#000" stroke-width="0.9" />
<line x1="94.22" y1="168.30" x2="94.22" y2="163.30" stroke="#000" stroke-width="0.9" />
<line x1="115.18" y1="28.90" x2="115.18" y2="33.90" stroke="#000" stroke-width="0.9" />
<line x1="115.18" y1="168.30" x2="115.18" y2="163.30" stroke="#000" stroke-width="0.9" />
<line x1="136.14" y1="28.90" x2="136.14" y2="33.90" stroke="#000" stroke-width="0.9" />
<line x1="136.14" y1="168.30" x2="136.14" y2="163.30" stroke="#000" stroke-width="0.9" />
<line x1="157.10" y1="28.90" x2="157.10" y2="38.90" stroke="#000" stroke-width="0.9" />
<line x1="157.10" y1="168.30" x2="157.10" y2="158.30" stroke="#000" stroke-width="0.9" />
<line x1="178.06" y1="28.90" x2="178.06" y2="33.90" stroke="#000" stroke-width="0.9" />
<line x1="178.06" y1="168.30" x2="178.06" y2="163.30" stroke="#000" stroke-width="0.9" />
<line x1="199.02" y1="28.90" x2="199.02" y2="33.90" stroke="#000" stroke-width="0.9" />
<line x1="199.02" y1="168.30" x2="199.02" y2="163.30" stroke="#000" stroke-width="0.9" />
<line x1="219.98" y1="28.90" x2="219.98" y2="33.90" stroke="#000" stroke-width="0.9" />
<line x1="219.98" y1="168.30" x2="219.98" y2="163.30" stroke="#000" stroke-width="0.9" />
<line x1="240.94" y1="28.90" x2="240.94" y2="33.90" stroke="#000" stroke-width="0.9" />
<line x1="240.94" y1="168.30" x2="240.94" y2="163.30" stroke="#000" stroke-width="0.9" />
<line x1="261.90" y1="28.90" x2="261.90" y2="38.90" stroke="#000" stroke-width="0.9" />
<line x1="261.90" y1="168.30" x2="261.90" y2="158.30" stroke="#000" stroke-width="0.9" />
<line x1="282.86" y1="28.90" x2="282.86" y2="33.90" stroke="#000" stroke-width="0.9" />
<line x1="282.86" y1="168.30" x2="282.86" y2="163.30" stroke="#000" stroke-width="0.9" />
<line x1="303.82" y1="28.90" x2="303.82" y2="33.90" stroke="#000" stroke-width="0.9" />
<line x1="303.82" y1="168.30" x2="303.82" y2="163.30" stroke="#000" stroke-width="0.9" />
<line x1="324.78" y1="28.90" x2="324.78" y2="33.90" stroke="#000" stroke-width="0.9" />
<line x1="324.78" y1="168.30" x2="324.78" y2="163.30" stroke="#000" stroke-width="0.9" />
<line x1="345.74" y1="28.90" x2="345.74" y2="33.90" stroke="#000" stroke-width="0.9" />
<line x1="345.74" y1="168.30" x2="345.74" y2="163.30" stroke="#000" stroke-width="0.9" />
<line x1="366.70" y1="28.90" x2="366.70" y2="38.90" stroke="#000" stroke-width="0.9" />
<line x1="366.70" y1="168.30" x2="366.70" y2="158.30" stroke="#000" stroke-width="0.9" />
<line x1="387.66" y1="28.90" x2="387.66" y2="33.90" stroke="#000" stroke-width="0.9" />
<line x1="387.66" y1="168.30" x2="387.66" y2="163.30" stroke="#000" stroke-width="0.9" />
<rect x="52.4" y="28.9" width="335.20000000000005" height="139.4" fill="none" stroke="#000" stroke-width="1.0"/>
<line x1="52.30" y1="176.80" x2="52.30" y2="186.80" stroke="#000" stroke-width="0.9" />
<line x1="52.30" y1="316.20" x2="52.30" y2="306.20" stroke="#000" stroke-width="0.9" />
<line x1="73.26" y1="176.80" x2="73.26" y2="181.80" stroke="#000" stroke-width="0.9" />
<line x1="73.26" y1="316.20" x2="73.26" y2="311.20" stroke="#000" stroke-width="0.9" />
<line x1="94.22" y1="176.80" x2="94.22" y2="181.80" stroke="#000" stroke-width="0.9" />
<line x1="94.22" y1="316.20" x2="94.22" y2="311.20" stroke="#000" stroke-width="0.9" />
<line x1="115.18" y1="176.80" x2="115.18" y2="181.80" stroke="#000" stroke-width="0.9" />
<line x1="115.18" y1="316.20" x2="115.18" y2="311.20" stroke="#000" stroke-width="0.9" />
<line x1="136.14" y1="176.80" x2="136.14" y2="181.80" stroke="#000" stroke-width="0.9" />
<line x1="136.14" y1="316.20" x2="136.14" y2="311.20" stroke="#000" stroke-width="0.9" />
<line x1="157.10" y1="176.80" x2="157.10" y2="186.80" stroke="#000" stroke-width="0.9" />
<line x1="157.10" y1="316.20" x2="157.10" y2="306.20" stroke="#000" stroke-width="0.9" />
<line x1="178.06" y1="176.80" x2="178.06" y2="181.80" stroke="#000" stroke-width="0.9" />
<line x1="178.06" y1="316.20" x2="178.06" y2="311.20" stroke="#000" stroke-width="0.9" />
<line x1="199.02" y1="176.80" x2="199.02" y2="181.80" stroke="#000" stroke-width="0.9" />
<line x1="199.02" y1="316.20" x2="199.02" y2="311.20" stroke="#000" stroke-width="0.9" />
<line x1="219.98" y1="176.80" x2="219.98" y2="181.80" stroke="#000" stroke-width="0.9" />
<line x1="219.98" y1="316.20" x2="219.98" y2="311.20" stroke="#000" stroke-width="0.9" />
<line x1="240.94" y1="176.80" x2="240.94" y2="181.80" stroke="#000" stroke-width="0.9" />
<line x1="240.94" y1="316.20" x2="240.94" y2="311.20" stroke="#000" stroke-width="0.9" />
<line x1="261.90" y1="176.80" x2="261.90" y2="186.80" stroke="#000" stroke-width="0.9" />
<line x1="261.90" y1="316.20" x2="261.90" y2="306.20" stroke="#000" stroke-width="0.9" />
<line x1="282.86" y1="176.80" x2="282.86" y2="181.80" stroke="#000" stroke-width="0.9" />
<line x1="282.86" y1="316.20" x2="282.86" y2="311.20" stroke="#000" stroke-width="0.9" />
<line x1="303.82" y1="176.80" x2="303.82" y2="181.80" stroke="#000" stroke-width="0.9" />
<line x1="303.82" y1="316.20" x2="303.82" y2="311.20" stroke="#000" stroke-width="0.9" />
<line x1="324.78" y1="176.80" x2="324.78" y2="181.80" stroke="#000" stroke-width="0.9" />
<line x1="324.78" y1="316.20" x2="324.78" y2="311.20" stroke="#000" stroke-width="0.9" />
<line x1="345.74" y1="176.80" x2="345.74" y2="181.80" stroke="#000" stroke-width="0.9" />
<line x1="345.74" y1="316.20" x2="345.74" y2="311.20" stroke="#000" stroke-width="0.9" />
<line x1="366.70" y1="176.80" x2="366.70" y2="186.80" stroke="#000" stroke-width="0.9" />
<line x1="366.70" y1="316.20" x2="366.70" y2="306.20" stroke="#000" stroke-width="0.9" />
<line x1="387.66" y1="176.80" x2="387.66" y2="181.80" stroke="#000" stroke-width="0.9" />
<line x1="387.66" y1="316.20" x2="387.66" y2="311.20" stroke="#000" stroke-width="0.9" />
<rect x="52.4" y="176.8" width="335.20000000000005" height="139.4" fill="none" stroke="#000" stroke-width="1.0"/>
<line x1="52.40" y1="316.17" x2="62.40" y2="316.17" stroke="#000" stroke-width="0.9" />
<text transform="translate(45.80,321.57) scale(0.872,1)" font-size="15.1" fill="#000" text-anchor="end" >−4</text>
<line x1="52.40" y1="303.50" x2="57.40" y2="303.50" stroke="#000" stroke-width="0.9" />
<line x1="52.40" y1="290.83" x2="62.40" y2="290.83" stroke="#000" stroke-width="0.9" />
<text transform="translate(45.80,296.23) scale(0.872,1)" font-size="15.1" fill="#000" text-anchor="end" >−2</text>
<line x1="52.40" y1="278.16" x2="57.40" y2="278.16" stroke="#000" stroke-width="0.9" />
<line x1="52.40" y1="265.49" x2="62.40" y2="265.49" stroke="#000" stroke-width="0.9" />
<text transform="translate(45.80,270.89) scale(0.872,1)" font-size="15.1" fill="#000" text-anchor="end" >0</text>
<line x1="52.40" y1="252.82" x2="57.40" y2="252.82" stroke="#000" stroke-width="0.9" />
<line x1="52.40" y1="240.15" x2="62.40" y2="240.15" stroke="#000" stroke-width="0.9" />
<text transform="translate(45.80,245.55) scale(0.872,1)" font-size="15.1" fill="#000" text-anchor="end" >2</text>
<line x1="52.40" y1="227.48" x2="57.40" y2="227.48" stroke="#000" stroke-width="0.9" />
<line x1="52.40" y1="214.81" x2="62.40" y2="214.81" stroke="#000" stroke-width="0.9" />
<text transform="translate(45.80,220.21) scale(0.872,1)" font-size="15.1" fill="#000" text-anchor="end" >4</text>
<line x1="52.40" y1="202.14" x2="57.40" y2="202.14" stroke="#000" stroke-width="0.9" />
<line x1="52.40" y1="189.47" x2="62.40" y2="189.47" stroke="#000" stroke-width="0.9" />
<text transform="translate(45.80,194.87) scale(0.872,1)" font-size="15.1" fill="#000" text-anchor="end" >6</text>
<line x1="52.40" y1="176.80" x2="57.40" y2="176.80" stroke="#000" stroke-width="0.9" />
<line x1="52.30" y1="324.70" x2="52.30" y2="334.70" stroke="#000" stroke-width="0.9" />
<line x1="52.30" y1="464.10" x2="52.30" y2="454.10" stroke="#000" stroke-width="0.9" />
<line x1="73.26" y1="324.70" x2="73.26" y2="329.70" stroke="#000" stroke-width="0.9" />
<line x1="73.26" y1="464.10" x2="73.26" y2="459.10" stroke="#000" stroke-width="0.9" />
<line x1="94.22" y1="324.70" x2="94.22" y2="329.70" stroke="#000" stroke-width="0.9" />
<line x1="94.22" y1="464.10" x2="94.22" y2="459.10" stroke="#000" stroke-width="0.9" />
<line x1="115.18" y1="324.70" x2="115.18" y2="329.70" stroke="#000" stroke-width="0.9" />
<line x1="115.18" y1="464.10" x2="115.18" y2="459.10" stroke="#000" stroke-width="0.9" />
<line x1="136.14" y1="324.70" x2="136.14" y2="329.70" stroke="#000" stroke-width="0.9" />
<line x1="136.14" y1="464.10" x2="136.14" y2="459.10" stroke="#000" stroke-width="0.9" />
<line x1="157.10" y1="324.70" x2="157.10" y2="334.70" stroke="#000" stroke-width="0.9" />
<line x1="157.10" y1="464.10" x2="157.10" y2="454.10" stroke="#000" stroke-width="0.9" />
<line x1="178.06" y1="324.70" x2="178.06" y2="329.70" stroke="#000" stroke-width="0.9" />
<line x1="178.06" y1="464.10" x2="178.06" y2="459.10" stroke="#000" stroke-width="0.9" />
<line x1="199.02" y1="324.70" x2="199.02" y2="329.70" stroke="#000" stroke-width="0.9" />
<line x1="199.02" y1="464.10" x2="199.02" y2="459.10" stroke="#000" stroke-width="0.9" />
<line x1="219.98" y1="324.70" x2="219.98" y2="329.70" stroke="#000" stroke-width="0.9" />
<line x1="219.98" y1="464.10" x2="219.98" y2="459.10" stroke="#000" stroke-width="0.9" />
<line x1="240.94" y1="324.70" x2="240.94" y2="329.70" stroke="#000" stroke-width="0.9" />
<line x1="240.94" y1="464.10" x2="240.94" y2="459.10" stroke="#000" stroke-width="0.9" />
<line x1="261.90" y1="324.70" x2="261.90" y2="334.70" stroke="#000" stroke-width="0.9" />
<line x1="261.90" y1="464.10" x2="261.90" y2="454.10" stroke="#000" stroke-width="0.9" />
<line x1="282.86" y1="324.70" x2="282.86" y2="329.70" stroke="#000" stroke-width="0.9" />
<line x1="282.86" y1="464.10" x2="282.86" y2="459.10" stroke="#000" stroke-width="0.9" />
<line x1="303.82" y1="324.70" x2="303.82" y2="329.70" stroke="#000" stroke-width="0.9" />
<line x1="303.82" y1="464.10" x2="303.82" y2="459.10" stroke="#000" stroke-width="0.9" />
<line x1="324.78" y1="324.70" x2="324.78" y2="329.70" stroke="#000" stroke-width="0.9" />
<line x1="324.78" y1="464.10" x2="324.78" y2="459.10" stroke="#000" stroke-width="0.9" />
<line x1="345.74" y1="324.70" x2="345.74" y2="329.70" stroke="#000" stroke-width="0.9" />
<line x1="345.74" y1="464.10" x2="345.74" y2="459.10" stroke="#000" stroke-width="0.9" />
<line x1="366.70" y1="324.70" x2="366.70" y2="334.70" stroke="#000" stroke-width="0.9" />
<line x1="366.70" y1="464.10" x2="366.70" y2="454.10" stroke="#000" stroke-width="0.9" />
<line x1="387.66" y1="324.70" x2="387.66" y2="329.70" stroke="#000" stroke-width="0.9" />
<line x1="387.66" y1="464.10" x2="387.66" y2="459.10" stroke="#000" stroke-width="0.9" />
<rect x="52.4" y="324.7" width="335.20000000000005" height="139.4" fill="none" stroke="#000" stroke-width="1.0"/>
<line x1="52.40" y1="464.07" x2="62.40" y2="464.07" stroke="#000" stroke-width="0.9" />
<text transform="translate(45.80,469.47) scale(0.872,1)" font-size="15.1" fill="#000" text-anchor="end" >−4</text>
<line x1="52.40" y1="451.40" x2="57.40" y2="451.40" stroke="#000" stroke-width="0.9" />
<line x1="52.40" y1="438.73" x2="62.40" y2="438.73" stroke="#000" stroke-width="0.9" />
<text transform="translate(45.80,444.13) scale(0.872,1)" font-size="15.1" fill="#000" text-anchor="end" >−2</text>
<line x1="52.40" y1="426.06" x2="57.40" y2="426.06" stroke="#000" stroke-width="0.9" />
<line x1="52.40" y1="413.39" x2="62.40" y2="413.39" stroke="#000" stroke-width="0.9" />
<text transform="translate(45.80,418.79) scale(0.872,1)" font-size="15.1" fill="#000" text-anchor="end" >0</text>
<line x1="52.40" y1="400.72" x2="57.40" y2="400.72" stroke="#000" stroke-width="0.9" />
<line x1="52.40" y1="388.05" x2="62.40" y2="388.05" stroke="#000" stroke-width="0.9" />
<text transform="translate(45.80,393.45) scale(0.872,1)" font-size="15.1" fill="#000" text-anchor="end" >2</text>
<line x1="52.40" y1="375.38" x2="57.40" y2="375.38" stroke="#000" stroke-width="0.9" />
<line x1="52.40" y1="362.71" x2="62.40" y2="362.71" stroke="#000" stroke-width="0.9" />
<text transform="translate(45.80,368.11) scale(0.872,1)" font-size="15.1" fill="#000" text-anchor="end" >4</text>
<line x1="52.40" y1="350.04" x2="57.40" y2="350.04" stroke="#000" stroke-width="0.9" />
<line x1="52.40" y1="337.37" x2="62.40" y2="337.37" stroke="#000" stroke-width="0.9" />
<text transform="translate(45.80,342.77) scale(0.872,1)" font-size="15.1" fill="#000" text-anchor="end" >6</text>
<line x1="52.40" y1="324.70" x2="57.40" y2="324.70" stroke="#000" stroke-width="0.9" />
<line x1="52.30" y1="472.60" x2="52.30" y2="482.60" stroke="#000" stroke-width="0.9" />
<line x1="52.30" y1="612.00" x2="52.30" y2="602.00" stroke="#000" stroke-width="0.9" />
<line x1="73.26" y1="472.60" x2="73.26" y2="477.60" stroke="#000" stroke-width="0.9" />
<line x1="73.26" y1="612.00" x2="73.26" y2="607.00" stroke="#000" stroke-width="0.9" />
<line x1="94.22" y1="472.60" x2="94.22" y2="477.60" stroke="#000" stroke-width="0.9" />
<line x1="94.22" y1="612.00" x2="94.22" y2="607.00" stroke="#000" stroke-width="0.9" />
<line x1="115.18" y1="472.60" x2="115.18" y2="477.60" stroke="#000" stroke-width="0.9" />
<line x1="115.18" y1="612.00" x2="115.18" y2="607.00" stroke="#000" stroke-width="0.9" />
<line x1="136.14" y1="472.60" x2="136.14" y2="477.60" stroke="#000" stroke-width="0.9" />
<line x1="136.14" y1="612.00" x2="136.14" y2="607.00" stroke="#000" stroke-width="0.9" />
<line x1="157.10" y1="472.60" x2="157.10" y2="482.60" stroke="#000" stroke-width="0.9" />
<line x1="157.10" y1="612.00" x2="157.10" y2="602.00" stroke="#000" stroke-width="0.9" />
<line x1="178.06" y1="472.60" x2="178.06" y2="477.60" stroke="#000" stroke-width="0.9" />
<line x1="178.06" y1="612.00" x2="178.06" y2="607.00" stroke="#000" stroke-width="0.9" />
<line x1="199.02" y1="472.60" x2="199.02" y2="477.60" stroke="#000" stroke-width="0.9" />
<line x1="199.02" y1="612.00" x2="199.02" y2="607.00" stroke="#000" stroke-width="0.9" />
<line x1="219.98" y1="472.60" x2="219.98" y2="477.60" stroke="#000" stroke-width="0.9" />
<line x1="219.98" y1="612.00" x2="219.98" y2="607.00" stroke="#000" stroke-width="0.9" />
<line x1="240.94" y1="472.60" x2="240.94" y2="477.60" stroke="#000" stroke-width="0.9" />
<line x1="240.94" y1="612.00" x2="240.94" y2="607.00" stroke="#000" stroke-width="0.9" />
<line x1="261.90" y1="472.60" x2="261.90" y2="482.60" stroke="#000" stroke-width="0.9" />
<line x1="261.90" y1="612.00" x2="261.90" y2="602.00" stroke="#000" stroke-width="0.9" />
<line x1="282.86" y1="472.60" x2="282.86" y2="477.60" stroke="#000" stroke-width="0.9" />
<line x1="282.86" y1="612.00" x2="282.86" y2="607.00" stroke="#000" stroke-width="0.9" />
<line x1="303.82" y1="472.60" x2="303.82" y2="477.60" stroke="#000" stroke-width="0.9" />
<line x1="303.82" y1="612.00" x2="303.82" y2="607.00" stroke="#000" stroke-width="0.9" />
<line x1="324.78" y1="472.60" x2="324.78" y2="477.60" stroke="#000" stroke-width="0.9" />
<line x1="324.78" y1="612.00" x2="324.78" y2="607.00" stroke="#000" stroke-width="0.9" />
<line x1="345.74" y1="472.60" x2="345.74" y2="477.60" stroke="#000" stroke-width="0.9" />
<line x1="345.74" y1="612.00" x2="345.74" y2="607.00" stroke="#000" stroke-width="0.9" />
<line x1="366.70" y1="472.60" x2="366.70" y2="482.60" stroke="#000" stroke-width="0.9" />
<line x1="366.70" y1="612.00" x2="366.70" y2="602.00" stroke="#000" stroke-width="0.9" />
<line x1="387.66" y1="472.60" x2="387.66" y2="477.60" stroke="#000" stroke-width="0.9" />
<line x1="387.66" y1="612.00" x2="387.66" y2="607.00" stroke="#000" stroke-width="0.9" />
<rect x="52.4" y="472.6" width="335.20000000000005" height="139.4" fill="none" stroke="#000" stroke-width="1.0"/>
<line x1="52.40" y1="611.97" x2="62.40" y2="611.97" stroke="#000" stroke-width="0.9" />
<text transform="translate(45.80,617.37) scale(0.872,1)" font-size="15.1" fill="#000" text-anchor="end" >−4</text>
<line x1="52.40" y1="599.30" x2="57.40" y2="599.30" stroke="#000" stroke-width="0.9" />
<line x1="52.40" y1="586.63" x2="62.40" y2="586.63" stroke="#000" stroke-width="0.9" />
<text transform="translate(45.80,592.03) scale(0.872,1)" font-size="15.1" fill="#000" text-anchor="end" >−2</text>
<line x1="52.40" y1="573.96" x2="57.40" y2="573.96" stroke="#000" stroke-width="0.9" />
<line x1="52.40" y1="561.29" x2="62.40" y2="561.29" stroke="#000" stroke-width="0.9" />
<text transform="translate(45.80,566.69) scale(0.872,1)" font-size="15.1" fill="#000" text-anchor="end" >0</text>
<line x1="52.40" y1="548.62" x2="57.40" y2="548.62" stroke="#000" stroke-width="0.9" />
<line x1="52.40" y1="535.95" x2="62.40" y2="535.95" stroke="#000" stroke-width="0.9" />
<text transform="translate(45.80,541.35) scale(0.872,1)" font-size="15.1" fill="#000" text-anchor="end" >2</text>
<line x1="52.40" y1="523.28" x2="57.40" y2="523.28" stroke="#000" stroke-width="0.9" />
<line x1="52.40" y1="510.61" x2="62.40" y2="510.61" stroke="#000" stroke-width="0.9" />
<text transform="translate(45.80,516.01) scale(0.872,1)" font-size="15.1" fill="#000" text-anchor="end" >4</text>
<line x1="52.40" y1="497.94" x2="57.40" y2="497.94" stroke="#000" stroke-width="0.9" />
<line x1="52.40" y1="485.27" x2="62.40" y2="485.27" stroke="#000" stroke-width="0.9" />
<text transform="translate(45.80,490.67) scale(0.872,1)" font-size="15.1" fill="#000" text-anchor="end" >6</text>
<line x1="52.40" y1="472.60" x2="57.40" y2="472.60" stroke="#000" stroke-width="0.9" />
<text transform="translate(52.30,632.00) scale(0.872,1)" font-size="15.1" fill="#000" text-anchor="middle" >−20</text>
<text transform="translate(157.10,632.00) scale(0.872,1)" font-size="15.1" fill="#000" text-anchor="middle" >−10</text>
<text transform="translate(261.90,632.00) scale(0.872,1)" font-size="15.1" fill="#000" text-anchor="middle" >0</text>
<text transform="translate(366.70,632.00) scale(0.872,1)" font-size="15.1" fill="#000" text-anchor="middle" >10</text>
<text transform="translate(219.80,651.80) scale(0.85,1)" font-size="15.1" fill="#000" text-anchor="middle" style="word-spacing:1.6px">Position z (Å)</text>
<text transform="translate(14.8,98.5) rotate(-90) scale(0.94,1)" font-size="14.4" text-anchor="middle">Potential V (eV)</text>
<text transform="translate(22.4,394.6) rotate(-90) scale(0.93,1)" font-size="14.4" text-anchor="middle">Energy (eV)</text>
<text transform="translate(406.6,394) rotate(-90) scale(0.93,1)" font-size="14.4" text-anchor="middle" fill="#e00">|Ψ<tspan font-size="10.5" dy="3.4">IS</tspan><tspan dy="-3.4">(z)|</tspan><tspan font-size="10.5" dy="-5.5">2</tspan></text>
<line x1="261.60" y1="5.60" x2="261.60" y2="26.00" stroke="#000" stroke-width="1.0" />
<line x1="314.20" y1="5.60" x2="314.20" y2="26.00" stroke="#000" stroke-width="1.0" />
<line x1="240.50" y1="15.60" x2="256.00" y2="15.60" stroke="#000" stroke-width="1.0" />
<path d="M260.8,15.6 L251.8,12.4 L254.6,15.6 L251.8,18.8 Z" fill="#000"/>
<line x1="320.00" y1="15.60" x2="336.30" y2="15.60" stroke="#000" stroke-width="1.0" />
<path d="M315.0,15.6 L324.0,12.4 L321.2,15.6 L324.0,18.8 Z" fill="#000"/>
<text transform="translate(340.60,20.50) scale(0.872,1)" font-size="15.1" fill="#e00" style="word-spacing:0.8px">d<tspan font-size="11" dy="3.6">g</tspan><tspan dy="-3.6"></tspan></text>
</svg>
</body></html>
